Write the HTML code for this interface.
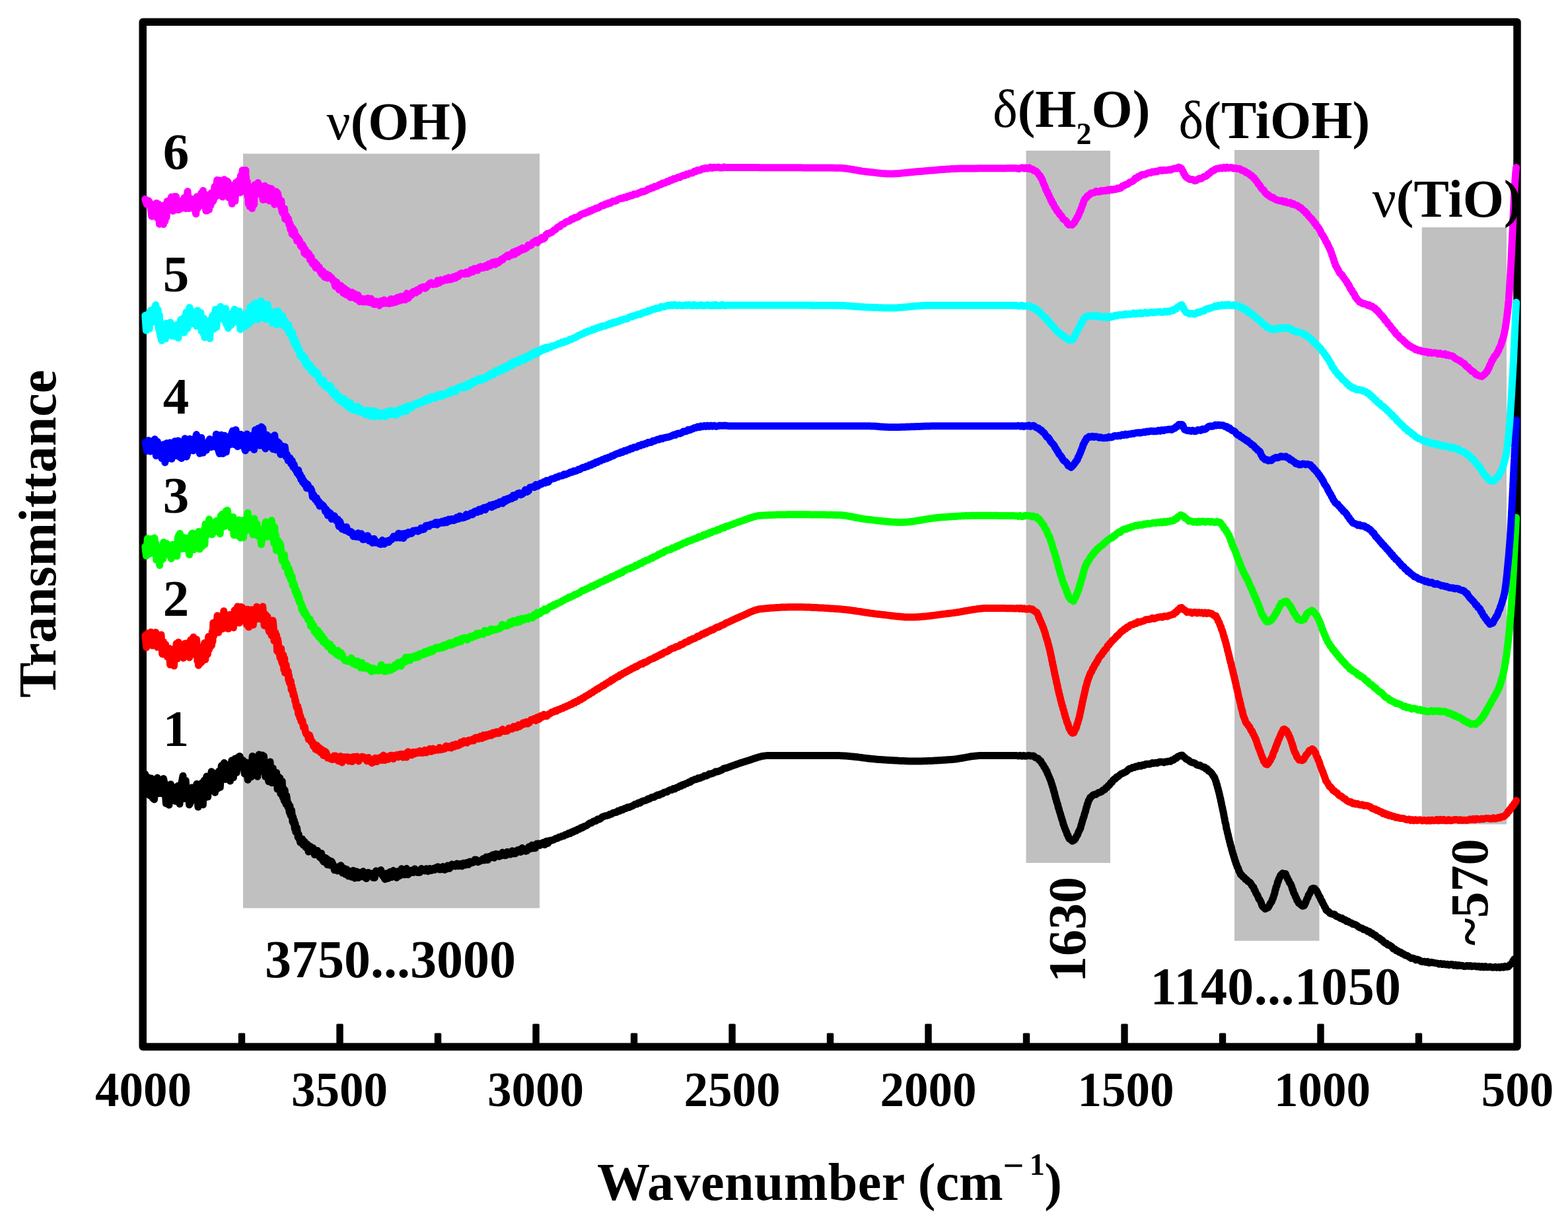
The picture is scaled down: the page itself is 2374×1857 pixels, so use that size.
<!DOCTYPE html>
<html lang="en"><head><meta charset="utf-8"><title>FTIR spectra</title>
<style>html,body{margin:0;padding:0;background:#fff;}body{width:2374px;height:1857px;overflow:hidden;}svg{display:block;}text{font-family:"Liberation Serif","DejaVu Serif",serif;font-weight:bold;fill:#000;}.g{font-weight:normal;}</style></head><body>
<svg width="2374" height="1857" viewBox="0 0 2374 1857">
<rect x="0" y="0" width="2374" height="1857" fill="#ffffff"/>
<rect x="368.0" y="232.6" width="449.0" height="1141.8" fill="#c0c0c0"/>
<rect x="1553.5" y="228.0" width="127.5" height="1078.0" fill="#c0c0c0"/>
<rect x="1869.0" y="227.0" width="128.5" height="1196.8" fill="#c0c0c0"/>
<rect x="2152.8" y="344.0" width="128.2" height="903.5" fill="#c0c0c0"/>
<rect x="216.2" y="33.2" width="2080.8" height="1551.1" fill="none" stroke="#000" stroke-width="11.5" stroke-linejoin="round"/>
<rect x="360.8" y="1563.5" width="10.4" height="18.5" rx="1.5" fill="#000"/>
<rect x="509.3" y="1549.5" width="10.4" height="32.5" rx="1.5" fill="#000"/>
<rect x="657.8" y="1563.5" width="10.4" height="18.5" rx="1.5" fill="#000"/>
<rect x="806.3" y="1549.5" width="10.4" height="32.5" rx="1.5" fill="#000"/>
<rect x="954.8" y="1563.5" width="10.4" height="18.5" rx="1.5" fill="#000"/>
<rect x="1103.3" y="1549.5" width="10.4" height="32.5" rx="1.5" fill="#000"/>
<rect x="1251.8" y="1563.5" width="10.4" height="18.5" rx="1.5" fill="#000"/>
<rect x="1400.3" y="1549.5" width="10.4" height="32.5" rx="1.5" fill="#000"/>
<rect x="1548.8" y="1563.5" width="10.4" height="18.5" rx="1.5" fill="#000"/>
<rect x="1697.3" y="1549.5" width="10.4" height="32.5" rx="1.5" fill="#000"/>
<rect x="1845.8" y="1563.5" width="10.4" height="18.5" rx="1.5" fill="#000"/>
<rect x="1994.3" y="1549.5" width="10.4" height="32.5" rx="1.5" fill="#000"/>
<rect x="2142.8" y="1563.5" width="10.4" height="18.5" rx="1.5" fill="#000"/>
<path d="M220.0 1171.8 L222.0 1199.6 L224.2 1176.7 L226.5 1203.9 L228.8 1178.1 L231.1 1207.8 L233.5 1210.0 L235.9 1184.0 L238.3 1177.1 L240.7 1200.8 L243.0 1181.9 L245.3 1201.0 L247.5 1178.4 L249.5 1186.9 L251.4 1216.2 L253.5 1192.9 L255.9 1218.3 L258.4 1186.9 L260.8 1194.7 L263.1 1194.3 L265.3 1212.5 L267.5 1190.9 L269.7 1189.3 L272.0 1216.8 L274.5 1187.6 L277.0 1174.2 L279.2 1208.7 L281.2 1181.5 L283.0 1207.7 L284.8 1192.3 L286.6 1218.0 L288.5 1214.6 L290.6 1192.1 L293.0 1195.6 L295.5 1208.9 L297.8 1186.5 L299.9 1221.3 L301.9 1192.4 L303.7 1216.4 L305.5 1185.0 L307.3 1217.9 L309.1 1181.0 L310.9 1206.8 L312.8 1175.0 L314.7 1206.0 L316.5 1175.0 L318.3 1190.0 L320.1 1167.8 L321.9 1169.5 L323.7 1194.8 L325.5 1199.4 L327.4 1170.6 L329.3 1193.7 L331.3 1167.2 L333.3 1191.4 L335.3 1158.8 L337.3 1179.1 L339.3 1154.6 L341.4 1179.5 L343.6 1174.5 L345.9 1157.4 L348.4 1182.0 L350.9 1150.9 L353.4 1176.9 L355.8 1148.2 L358.2 1169.3 L360.5 1146.2 L362.9 1144.4 L365.3 1151.0 L367.8 1150.7 L370.3 1171.2 L372.8 1153.9 L375.2 1180.2 L377.5 1155.0 L379.8 1176.0 L382.2 1144.5 L384.7 1164.6 L387.2 1165.0 L389.7 1175.3 L392.2 1141.9 L394.7 1167.3 L397.1 1143.0 L399.5 1144.5 L401.9 1175.6 L404.3 1154.5 L406.7 1182.7 L409.0 1153.1 L411.2 1184.7 L413.3 1162.7 L415.3 1184.9 L417.1 1181.6 L418.6 1169.5 L420.0 1194.3 L421.3 1175.5 L422.5 1191.7 L423.7 1177.6 L424.9 1201.5 L426.1 1185.7 L427.2 1182.5 L428.2 1206.7 L429.2 1193.5 L430.2 1211.8 L431.2 1195.9 L432.1 1210.7 L433.0 1217.2 L433.9 1204.6 L434.8 1211.4 L435.7 1221.1 L436.6 1216.0 L437.4 1223.9 L438.2 1229.5 L439.0 1220.0 L439.8 1233.1 L440.6 1234.8 L441.4 1226.2 L442.2 1232.6 L443.0 1243.8 L443.8 1237.0 L444.6 1246.8 L445.4 1242.0 L446.2 1254.2 L447.0 1246.5 L447.8 1259.2 L448.6 1252.6 L449.4 1252.8 L450.3 1259.1 L451.2 1267.3 L452.2 1262.8 L453.4 1270.0 L454.7 1275.0 L456.1 1275.5 L457.6 1269.9 L459.2 1278.9 L461.0 1273.6 L462.9 1282.4 L465.0 1277.6 L467.2 1289.1 L469.4 1280.8 L471.7 1288.5 L474.0 1283.2 L476.3 1293.6 L478.5 1292.3 L480.7 1287.2 L482.7 1295.4 L484.6 1297.9 L486.5 1291.4 L488.3 1301.5 L490.1 1304.3 L491.9 1298.1 L493.7 1298.8 L495.6 1308.7 L497.6 1301.5 L499.7 1309.4 L501.9 1303.6 L504.2 1308.0 L506.5 1316.8 L508.9 1316.5 L511.3 1318.0 L513.7 1311.2 L516.1 1309.8 L518.4 1321.1 L520.7 1314.1 L522.9 1323.2 L525.1 1315.7 L527.4 1325.9 L529.8 1318.5 L532.3 1327.2 L534.8 1317.6 L537.3 1329.0 L539.8 1318.9 L542.3 1328.6 L544.8 1320.5 L547.3 1326.7 L549.8 1318.8 L552.3 1327.9 L554.8 1329.6 L557.3 1320.4 L559.8 1323.7 L562.3 1322.0 L564.8 1328.3 L567.2 1328.6 L569.5 1318.0 L571.8 1320.7 L574.2 1319.4 L576.7 1316.7 L579.1 1325.2 L581.0 1327.1 L583.1 1330.8 L585.6 1321.8 L588.1 1329.4 L590.6 1319.4 L593.1 1327.6 L595.5 1317.6 L598.0 1325.6 L600.5 1328.4 L603.0 1318.5 L605.5 1325.4 L608.0 1314.8 L610.5 1323.2 L613.0 1323.8 L615.5 1314.4 L618.0 1323.7 L620.5 1320.1 L623.0 1317.2 L625.5 1320.5 L628.0 1314.9 L630.5 1320.1 L633.0 1320.5 L635.5 1320.4 L638.0 1314.6 L640.5 1315.8 L643.0 1318.1 L645.5 1314.8 L648.0 1318.7 L650.5 1314.6 L653.0 1317.6 L655.5 1314.5 L658.0 1316.5 L660.5 1312.8 L663.0 1311.8 L665.5 1316.0 L668.0 1315.8 L670.5 1311.5 L673.0 1316.3 L675.5 1315.3 L678.0 1309.9 L680.3 1314.5 L682.4 1312.5 L684.5 1307.9 L686.8 1310.0 L689.3 1311.0 L691.8 1307.1 L694.2 1310.8 L696.7 1307.4 L699.2 1310.9 L701.7 1306.3 L704.2 1309.3 L706.6 1305.6 L709.0 1308.6 L711.4 1304.0 L713.8 1305.9 L716.3 1305.3 L718.8 1301.1 L721.3 1301.3 L723.8 1304.8 L726.3 1303.3 L728.8 1302.5 L731.3 1299.7 L733.8 1301.9 L736.2 1296.9 L738.6 1301.4 L741.0 1296.2 L743.4 1297.9 L745.8 1293.8 L748.2 1298.3 L750.7 1292.6 L753.2 1292.7 L755.7 1296.2 L758.2 1295.1 L760.7 1290.1 L763.2 1294.7 L765.7 1294.6 L768.2 1289.3 L770.7 1292.9 L773.2 1292.9 L775.7 1287.7 L778.2 1292.1 L780.7 1291.8 L783.2 1286.8 L785.7 1286.1 L788.2 1289.5 L790.7 1283.3 L793.2 1287.6 L795.7 1288.2 L798.2 1287.4 L800.7 1281.5 L803.1 1284.4 L805.5 1279.0 L807.9 1283.8 L810.3 1283.5 L812.7 1276.9 L815.1 1276.8 L817.5 1279.4 L819.9 1276.3 L822.3 1275.2 L824.7 1278.6 L827.1 1273.1 L829.5 1276.4 L831.9 1272.3 L834.3 1272.1 L836.7 1271.5 L839.1 1270.6 L841.5 1268.9 L843.9 1268.7 L846.3 1267.0 L848.7 1266.7 L851.1 1265.3 L853.5 1265.2 L855.9 1263.2 L858.3 1263.3 L860.7 1261.1 L863.1 1261.6 L865.5 1259.1 L867.9 1259.2 L870.2 1257.0 L872.5 1257.3 L874.8 1255.0 L877.1 1254.9 L879.4 1252.8 L881.7 1252.9 L884.0 1250.8 L886.3 1250.3 L888.6 1249.3 L890.9 1247.2 L893.2 1245.8 L895.5 1245.5 L897.8 1243.6 L900.1 1242.6 L902.4 1242.4 L904.7 1239.8 L907.0 1240.1 L909.3 1239.0 L911.6 1236.6 L913.9 1235.7 L916.3 1234.8 L918.7 1234.5 L921.1 1233.8 L923.5 1232.2 L925.9 1232.2 L928.3 1230.1 L930.7 1229.8 L933.1 1229.4 L935.5 1227.2 L937.9 1227.6 L940.3 1225.6 L942.7 1225.7 L945.1 1223.7 L947.5 1223.5 L949.9 1221.8 L952.3 1221.9 L954.7 1220.8 L957.1 1219.9 L959.5 1218.5 L961.9 1216.9 L964.3 1217.1 L966.7 1215.1 L969.1 1215.2 L971.5 1213.2 L973.9 1212.1 L976.3 1211.8 L978.7 1210.9 L981.1 1208.9 L983.5 1209.2 L985.9 1207.1 L988.3 1206.4 L990.7 1206.4 L993.1 1204.3 L995.5 1203.1 L997.9 1203.5 L1000.3 1201.8 L1002.7 1201.4 L1005.1 1199.4 L1007.5 1198.8 L1009.9 1198.5 L1012.3 1196.7 L1014.7 1195.5 L1017.1 1195.5 L1019.5 1193.6 L1021.9 1194.0 L1024.3 1191.9 L1026.6 1191.8 L1028.9 1189.6 L1031.2 1189.7 L1033.5 1187.5 L1035.8 1187.7 L1038.1 1185.9 L1040.4 1185.5 L1042.7 1183.8 L1045.0 1183.8 L1047.3 1181.5 L1049.7 1180.7 L1052.1 1179.6 L1054.5 1179.4 L1056.9 1177.6 L1059.3 1178.0 L1061.7 1176.6 L1064.1 1175.9 L1066.5 1174.0 L1068.9 1174.3 L1071.3 1173.4 L1073.7 1171.3 L1076.1 1171.3 L1078.5 1170.5 L1080.9 1169.6 L1083.3 1167.8 L1085.7 1168.0 L1088.1 1167.3 L1090.5 1166.1 L1092.9 1165.5 L1095.3 1163.3 L1097.7 1162.7 L1100.1 1162.3 L1102.5 1161.4 L1104.9 1160.5 L1107.3 1159.6 L1109.7 1158.7 L1112.1 1157.9 L1114.5 1157.0 L1116.9 1156.2 L1119.3 1155.3 L1121.7 1154.5 L1124.1 1153.7 L1126.5 1153.0 L1128.9 1152.2 L1131.3 1151.5 L1133.7 1150.8 L1136.1 1150.0 L1138.5 1149.1 L1140.9 1148.3 L1143.3 1147.5 L1145.7 1146.7 L1148.1 1146.0 L1150.6 1145.3 L1153.1 1144.7 L1155.6 1144.2 L1158.1 1143.9 L1160.6 1143.6 L1163.1 1143.6 L1165.6 1143.6 L1168.1 1143.6 L1170.7 1143.6 L1173.3 1143.6 L1175.9 1143.6 L1178.4 1143.6 L1180.9 1143.6 L1183.5 1143.6 L1186.1 1143.6 L1188.7 1143.6 L1191.2 1143.6 L1193.7 1143.6 L1196.3 1143.6 L1198.9 1143.6 L1201.5 1143.6 L1204.0 1143.6 L1206.5 1143.6 L1209.1 1143.6 L1211.7 1143.6 L1214.3 1143.6 L1216.8 1143.6 L1219.3 1143.6 L1221.9 1143.6 L1224.5 1143.6 L1227.1 1143.6 L1229.6 1143.6 L1232.1 1143.6 L1234.7 1143.6 L1237.3 1143.6 L1239.9 1143.6 L1242.4 1143.6 L1245.0 1143.6 L1247.6 1143.6 L1250.2 1143.6 L1252.7 1143.6 L1255.3 1143.6 L1257.8 1143.6 L1260.4 1143.6 L1263.0 1143.6 L1265.5 1143.6 L1268.1 1143.6 L1270.6 1143.6 L1273.1 1143.7 L1275.6 1143.7 L1278.1 1143.9 L1280.6 1144.0 L1283.1 1144.2 L1285.6 1144.4 L1288.1 1144.7 L1290.6 1144.9 L1293.1 1145.2 L1295.6 1145.5 L1298.1 1145.8 L1300.6 1146.1 L1303.1 1146.4 L1305.6 1146.8 L1308.1 1147.1 L1310.6 1147.4 L1313.1 1147.7 L1315.6 1148.0 L1318.1 1148.3 L1320.6 1148.6 L1323.1 1148.8 L1325.6 1149.0 L1328.1 1149.2 L1330.6 1149.4 L1333.1 1149.6 L1335.6 1149.7 L1338.1 1149.9 L1340.6 1150.1 L1343.1 1150.2 L1345.6 1150.4 L1348.1 1150.5 L1350.6 1150.7 L1353.1 1150.8 L1355.6 1151.0 L1358.1 1151.1 L1360.6 1151.3 L1363.1 1151.4 L1365.6 1151.5 L1368.1 1151.6 L1370.6 1151.7 L1373.1 1151.8 L1375.6 1151.9 L1378.1 1151.9 L1380.6 1152.0 L1383.1 1152.0 L1385.6 1152.0 L1388.1 1152.0 L1390.6 1152.0 L1393.1 1152.0 L1395.6 1151.9 L1398.1 1151.8 L1400.6 1151.8 L1403.1 1151.7 L1405.6 1151.6 L1408.1 1151.5 L1410.6 1151.4 L1413.1 1151.2 L1415.6 1151.1 L1418.1 1151.0 L1420.6 1150.8 L1423.1 1150.7 L1425.6 1150.5 L1428.1 1150.3 L1430.6 1150.2 L1433.1 1150.0 L1435.6 1149.8 L1438.1 1149.7 L1440.6 1149.5 L1443.1 1149.3 L1445.6 1149.0 L1448.1 1148.7 L1450.6 1148.3 L1453.1 1147.9 L1455.6 1147.5 L1458.1 1147.0 L1460.6 1146.6 L1463.1 1146.1 L1465.6 1145.7 L1468.1 1145.2 L1470.6 1144.8 L1473.1 1144.5 L1475.6 1144.2 L1478.1 1143.9 L1480.6 1143.7 L1483.1 1143.6 L1485.6 1143.6 L1488.2 1143.6 L1490.8 1143.6 L1493.4 1143.6 L1495.9 1143.6 L1498.5 1143.6 L1501.0 1143.6 L1503.6 1143.6 L1506.2 1143.6 L1508.7 1143.6 L1511.3 1143.6 L1513.8 1143.6 L1516.4 1143.6 L1519.0 1143.6 L1521.5 1143.6 L1524.1 1143.6 L1526.6 1143.6 L1529.2 1143.6 L1531.8 1143.6 L1534.3 1143.6 L1536.9 1143.6 L1539.4 1143.6 L1542.0 1144.0 L1544.6 1143.3 L1547.1 1144.3 L1549.7 1143.3 L1552.2 1144.3 L1554.8 1144.0 L1557.4 1143.3 L1559.9 1144.1 L1562.4 1143.9 L1564.9 1144.0 L1567.3 1146.4 L1569.6 1147.2 L1571.7 1147.9 L1573.7 1150.8 L1575.5 1151.4 L1577.0 1154.5 L1578.4 1156.6 L1579.7 1158.1 L1581.0 1161.3 L1582.3 1162.2 L1583.6 1165.7 L1584.8 1166.7 L1586.0 1170.6 L1587.1 1172.7 L1588.2 1175.3 L1589.2 1177.6 L1590.1 1180.2 L1591.0 1181.7 L1591.8 1185.4 L1592.6 1186.9 L1593.4 1190.1 L1594.2 1192.0 L1595.0 1195.5 L1595.7 1198.2 L1596.4 1199.5 L1597.1 1203.4 L1597.8 1205.4 L1598.5 1208.8 L1599.2 1210.2 L1599.9 1213.6 L1600.7 1215.6 L1601.5 1218.0 L1602.3 1222.2 L1603.1 1223.8 L1603.9 1227.1 L1604.7 1229.6 L1605.5 1231.7 L1606.3 1235.3 L1607.0 1236.9 L1607.7 1240.0 L1608.4 1241.3 L1609.2 1244.3 L1610.0 1247.9 L1610.9 1249.4 L1611.8 1252.8 L1612.7 1254.4 L1613.6 1257.0 L1614.6 1259.0 L1615.7 1262.9 L1616.8 1264.0 L1618.0 1267.7 L1619.3 1269.8 L1621.0 1270.3 L1623.1 1272.9 L1625.6 1272.1 L1627.2 1270.8 L1628.5 1268.6 L1629.9 1265.3 L1631.2 1263.8 L1632.4 1260.5 L1633.5 1258.0 L1634.5 1256.0 L1635.4 1254.4 L1636.2 1252.1 L1637.0 1248.4 L1637.8 1246.6 L1638.6 1243.2 L1639.4 1240.6 L1640.2 1237.9 L1641.0 1236.4 L1641.8 1232.8 L1642.6 1230.0 L1643.4 1228.4 L1644.2 1224.3 L1644.9 1221.9 L1645.6 1220.7 L1646.3 1216.7 L1647.1 1215.5 L1648.1 1211.6 L1649.3 1210.4 L1650.6 1206.9 L1652.2 1206.1 L1654.3 1203.8 L1656.6 1202.4 L1659.0 1202.5 L1661.4 1200.7 L1663.7 1199.4 L1665.9 1199.0 L1668.1 1197.9 L1670.3 1195.6 L1672.4 1195.2 L1674.4 1192.2 L1676.3 1191.9 L1678.1 1188.7 L1679.8 1188.2 L1681.6 1184.7 L1683.4 1184.3 L1685.2 1180.9 L1687.0 1179.1 L1688.8 1178.6 L1690.7 1175.8 L1692.7 1175.3 L1694.8 1173.6 L1697.0 1171.5 L1699.2 1170.8 L1701.4 1169.5 L1703.6 1168.7 L1705.8 1167.3 L1708.0 1164.9 L1710.2 1163.4 L1712.5 1163.2 L1714.8 1161.4 L1717.2 1161.6 L1719.7 1160.0 L1722.2 1160.2 L1724.7 1158.5 L1727.2 1159.5 L1729.7 1157.7 L1732.2 1158.3 L1734.7 1156.4 L1737.2 1156.2 L1739.7 1156.5 L1742.2 1156.0 L1744.7 1154.5 L1747.2 1155.3 L1749.7 1154.2 L1752.2 1154.9 L1754.7 1153.2 L1757.2 1153.1 L1759.7 1153.3 L1762.2 1154.0 L1764.7 1152.8 L1767.2 1153.0 L1769.7 1151.9 L1772.2 1152.4 L1774.6 1150.2 L1776.8 1150.3 L1779.0 1147.7 L1781.2 1147.6 L1783.3 1145.0 L1785.3 1144.4 L1787.6 1143.2 L1790.1 1143.1 L1792.1 1145.4 L1793.9 1146.6 L1795.9 1148.9 L1798.0 1149.6 L1800.1 1150.9 L1802.3 1153.0 L1804.6 1154.0 L1807.0 1154.3 L1809.4 1155.3 L1811.8 1157.6 L1814.2 1158.4 L1816.6 1158.0 L1819.0 1159.8 L1821.4 1160.9 L1823.7 1160.9 L1825.8 1163.7 L1827.8 1163.5 L1829.8 1166.9 L1831.7 1167.5 L1833.5 1169.2 L1835.2 1171.2 L1836.8 1174.4 L1838.2 1175.4 L1839.3 1178.0 L1840.2 1181.0 L1841.0 1182.4 L1841.8 1186.5 L1842.6 1187.6 L1843.4 1191.8 L1844.1 1193.3 L1844.8 1196.8 L1845.4 1198.4 L1846.0 1201.5 L1846.6 1203.5 L1847.2 1206.9 L1847.8 1208.3 L1848.4 1212.4 L1849.0 1214.1 L1849.6 1217.8 L1850.2 1220.6 L1850.8 1222.6 L1851.4 1226.5 L1852.0 1228.4 L1852.5 1230.9 L1853.0 1234.3 L1853.5 1236.9 L1854.0 1238.5 L1854.5 1242.3 L1855.0 1244.8 L1855.5 1245.7 L1856.1 1248.4 L1856.7 1253.0 L1857.3 1255.3 L1857.9 1257.2 L1858.5 1260.8 L1859.1 1262.3 L1859.7 1264.9 L1860.3 1268.2 L1860.9 1269.8 L1861.6 1273.5 L1862.3 1275.0 L1863.0 1279.2 L1863.7 1280.6 L1864.4 1283.0 L1865.1 1286.9 L1865.8 1288.3 L1866.5 1291.6 L1867.3 1293.3 L1868.1 1296.7 L1868.9 1298.5 L1869.7 1302.1 L1870.5 1303.5 L1871.4 1307.3 L1872.3 1308.5 L1873.2 1312.2 L1874.1 1312.9 L1875.0 1315.1 L1876.0 1318.8 L1877.1 1320.1 L1878.5 1323.8 L1880.1 1324.4 L1881.9 1327.1 L1883.8 1327.8 L1885.7 1330.9 L1887.6 1331.3 L1889.5 1334.0 L1891.4 1334.7 L1893.3 1336.5 L1895.0 1339.5 L1896.6 1341.8 L1897.9 1342.5 L1899.0 1346.4 L1900.1 1347.6 L1901.2 1350.6 L1902.4 1353.2 L1903.6 1354.4 L1904.8 1357.3 L1906.0 1360.8 L1907.2 1361.5 L1908.4 1363.9 L1909.5 1366.5 L1910.6 1370.2 L1911.9 1372.4 L1913.6 1373.4 L1915.6 1375.7 L1918.1 1374.4 L1919.9 1373.5 L1921.4 1371.1 L1922.9 1368.1 L1924.2 1366.1 L1925.4 1364.5 L1926.5 1361.0 L1927.5 1359.6 L1928.4 1355.8 L1929.2 1354.0 L1929.9 1351.6 L1930.6 1347.5 L1931.3 1346.2 L1932.0 1342.4 L1932.8 1341.4 L1933.6 1338.8 L1934.4 1334.8 L1935.3 1333.8 L1936.3 1329.9 L1937.4 1328.5 L1938.5 1325.1 L1939.8 1323.7 L1941.9 1321.6 L1944.4 1322.5 L1946.4 1322.6 L1947.6 1326.1 L1948.7 1327.8 L1949.9 1330.9 L1951.1 1332.3 L1952.3 1335.9 L1953.5 1336.9 L1954.6 1339.0 L1955.7 1341.9 L1956.7 1345.7 L1957.6 1346.9 L1958.5 1350.6 L1959.4 1352.7 L1960.4 1354.0 L1961.5 1357.4 L1962.6 1358.8 L1963.7 1362.7 L1964.9 1363.5 L1966.3 1366.9 L1967.7 1367.4 L1969.6 1369.4 L1972.1 1371.3 L1974.5 1370.7 L1975.8 1368.0 L1976.9 1365.6 L1978.0 1362.4 L1979.1 1359.6 L1980.1 1358.5 L1981.1 1354.5 L1982.2 1353.6 L1983.4 1351.0 L1984.6 1349.0 L1986.0 1345.3 L1988.2 1344.3 L1990.7 1344.9 L1992.3 1347.1 L1993.4 1348.1 L1994.6 1350.5 L1995.9 1353.1 L1997.1 1356.0 L1998.3 1357.4 L1999.5 1360.4 L2000.7 1363.1 L2001.8 1364.3 L2003.0 1367.6 L2004.2 1369.3 L2005.4 1372.4 L2006.6 1373.5 L2007.9 1377.4 L2009.4 1378.4 L2011.4 1379.5 L2013.6 1382.2 L2015.9 1383.1 L2018.2 1383.8 L2020.5 1383.7 L2022.8 1386.5 L2025.1 1387.3 L2027.4 1388.3 L2029.7 1389.9 L2032.0 1389.6 L2034.3 1392.1 L2036.6 1391.9 L2038.9 1394.5 L2041.2 1394.3 L2043.5 1396.3 L2045.8 1396.6 L2048.1 1398.7 L2050.4 1398.8 L2052.7 1399.7 L2055.0 1401.1 L2057.3 1403.3 L2059.6 1404.3 L2061.9 1404.7 L2064.2 1406.7 L2066.5 1406.9 L2068.8 1408.0 L2071.1 1409.8 L2073.4 1409.8 L2075.7 1412.5 L2078.0 1412.6 L2080.2 1415.0 L2082.3 1415.2 L2084.4 1417.9 L2086.5 1419.0 L2088.5 1419.8 L2090.6 1422.3 L2092.7 1422.9 L2094.8 1425.6 L2096.9 1427.3 L2099.0 1427.5 L2101.1 1430.2 L2103.2 1430.3 L2105.3 1431.6 L2107.4 1433.1 L2109.5 1436.0 L2111.7 1436.3 L2113.9 1438.7 L2116.1 1439.0 L2118.3 1441.1 L2120.5 1440.9 L2122.7 1443.3 L2125.0 1443.7 L2127.3 1445.9 L2129.6 1446.0 L2131.9 1447.2 L2134.2 1448.9 L2136.6 1450.4 L2139.0 1449.9 L2141.4 1451.0 L2143.8 1453.0 L2146.2 1452.0 L2148.7 1453.0 L2151.2 1454.9 L2153.7 1455.6 L2156.2 1455.0 L2158.7 1456.3 L2161.2 1455.4 L2163.7 1457.3 L2166.2 1456.3 L2168.7 1456.7 L2171.2 1457.1 L2173.7 1457.6 L2176.2 1457.9 L2178.7 1459.2 L2181.2 1458.3 L2183.7 1459.6 L2186.2 1458.7 L2188.7 1459.9 L2191.2 1459.3 L2193.7 1460.6 L2196.2 1459.6 L2198.7 1459.5 L2201.2 1461.2 L2203.7 1460.0 L2206.2 1461.7 L2208.7 1460.5 L2211.2 1461.6 L2213.7 1461.2 L2216.2 1462.4 L2218.7 1462.5 L2221.2 1461.4 L2223.7 1462.4 L2226.2 1461.5 L2228.7 1462.7 L2231.2 1462.2 L2233.7 1462.1 L2236.2 1463.1 L2238.7 1462.3 L2241.2 1463.8 L2243.7 1462.6 L2246.2 1463.9 L2248.7 1462.5 L2251.2 1463.8 L2253.7 1463.7 L2256.2 1463.1 L2258.7 1464.0 L2261.2 1464.2 L2263.7 1463.3 L2266.2 1464.3 L2268.7 1463.4 L2271.2 1464.5 L2273.7 1463.1 L2276.2 1464.1 L2278.7 1462.4 L2281.2 1463.4 L2283.7 1463.1 L2286.0 1460.3 L2287.9 1458.9 L2289.4 1457.9 L2290.7 1454.4 L2291.8 1453.1 L2292.7 1451.4" fill="none" stroke="#000000" stroke-width="11.0" stroke-linejoin="round" stroke-linecap="round"/>
<path d="M219.8 961.8 L221.7 979.8 L223.7 958.4 L225.9 974.6 L228.3 956.7 L230.8 977.1 L233.3 975.4 L235.8 957.1 L238.2 979.4 L240.4 962.0 L242.3 976.5 L244.0 960.7 L245.7 990.0 L247.3 971.1 L249.0 988.6 L250.6 975.4 L252.0 990.6 L253.3 994.2 L254.6 985.3 L256.0 981.2 L257.6 1006.0 L259.7 983.2 L262.0 989.2 L263.5 1007.8 L264.7 981.4 L265.9 995.4 L267.1 974.0 L268.4 997.0 L270.1 972.1 L272.6 987.4 L275.1 975.7 L277.6 996.0 L280.1 974.0 L282.6 973.7 L284.9 991.2 L286.8 995.1 L288.6 968.6 L290.5 990.4 L292.8 964.2 L294.8 983.6 L295.8 972.3 L296.7 989.9 L297.5 967.8 L298.2 976.6 L298.9 1000.3 L299.7 978.2 L300.5 1007.1 L301.5 987.8 L303.1 1003.9 L305.3 1001.9 L306.6 988.4 L307.7 997.6 L308.7 978.9 L309.7 973.1 L310.8 998.3 L312.0 989.6 L313.2 972.0 L314.4 990.0 L315.6 963.5 L316.8 982.5 L317.9 964.4 L318.9 967.0 L319.8 978.0 L320.6 976.3 L321.3 955.7 L322.0 970.8 L322.8 942.6 L323.8 961.8 L325.3 943.1 L327.2 952.7 L329.1 931.8 L330.8 957.2 L332.2 950.0 L333.6 937.8 L335.0 932.8 L336.6 951.8 L338.8 924.8 L341.3 950.4 L343.5 931.0 L345.7 951.6 L348.2 930.3 L350.4 932.9 L352.0 933.1 L353.5 949.9 L355.1 923.5 L357.2 940.6 L359.7 917.9 L362.2 942.7 L364.7 918.4 L367.2 919.5 L369.7 935.8 L372.0 940.5 L373.6 945.5 L375.0 922.2 L376.5 949.1 L378.4 930.8 L380.9 922.8 L383.3 945.9 L385.5 926.8 L387.2 937.2 L388.7 918.2 L390.4 920.1 L392.9 936.7 L395.4 923.4 L397.8 917.9 L400.1 946.8 L402.0 930.1 L403.5 947.3 L404.9 933.2 L406.3 951.2 L407.7 956.2 L408.9 939.1 L410.0 938.9 L411.1 962.0 L412.2 941.3 L413.2 939.1 L414.1 947.7 L415.0 970.0 L415.9 963.8 L416.8 957.1 L417.7 970.9 L418.6 961.4 L419.5 985.3 L420.4 967.3 L421.3 972.7 L422.2 988.4 L423.1 979.7 L424.0 995.7 L424.9 992.2 L425.7 981.8 L426.5 1001.5 L427.3 1003.5 L428.1 1005.5 L428.9 991.5 L429.8 1013.2 L430.7 996.2 L431.6 1018.5 L432.4 1012.8 L433.2 1006.5 L434.0 1019.4 L434.8 1015.0 L435.5 1017.2 L436.2 1015.7 L436.9 1029.2 L437.6 1022.8 L438.3 1033.2 L439.0 1028.9 L439.7 1035.9 L440.4 1031.3 L441.1 1043.9 L441.8 1038.3 L442.5 1046.0 L443.2 1043.6 L443.9 1052.4 L444.6 1049.4 L445.3 1053.6 L446.0 1054.0 L446.8 1061.4 L447.6 1060.4 L448.4 1068.0 L449.2 1070.9 L450.0 1069.3 L450.8 1068.7 L451.6 1080.5 L452.4 1074.4 L453.2 1079.1 L454.0 1086.7 L454.9 1084.0 L455.8 1091.4 L456.7 1092.8 L457.6 1089.9 L458.5 1094.4 L459.4 1100.8 L460.3 1098.9 L461.3 1100.1 L462.4 1107.4 L463.5 1110.7 L464.7 1111.7 L465.9 1111.2 L467.2 1118.9 L468.5 1112.5 L469.9 1116.6 L471.3 1123.0 L472.8 1122.3 L474.4 1129.3 L476.1 1126.2 L477.9 1134.2 L479.7 1128.1 L481.6 1136.1 L483.5 1131.5 L485.5 1139.1 L487.5 1134.6 L489.6 1143.4 L491.7 1137.0 L493.9 1139.1 L496.1 1147.1 L498.4 1146.2 L500.8 1148.9 L503.2 1149.4 L505.7 1144.1 L508.2 1144.0 L510.7 1150.6 L513.2 1152.1 L515.6 1144.6 L518.0 1153.9 L520.5 1145.8 L523.0 1145.9 L525.5 1145.6 L528.0 1152.0 L530.5 1146.2 L533.0 1152.6 L535.5 1145.3 L538.0 1149.9 L540.5 1145.0 L543.0 1152.1 L545.5 1147.6 L548.0 1145.3 L550.5 1145.6 L553.0 1147.8 L555.5 1151.8 L558.0 1146.5 L560.5 1152.2 L563.0 1154.8 L565.5 1153.4 L568.0 1147.2 L570.5 1152.7 L573.0 1150.6 L575.5 1146.2 L578.0 1150.6 L580.5 1143.1 L583.0 1150.5 L585.5 1145.2 L588.0 1149.2 L590.5 1143.6 L593.0 1143.2 L595.5 1148.5 L598.0 1143.7 L600.5 1142.6 L603.0 1145.9 L605.5 1141.4 L608.0 1141.3 L610.5 1146.2 L613.0 1140.8 L615.5 1146.0 L618.0 1137.7 L620.5 1141.6 L623.0 1142.7 L625.5 1138.3 L628.0 1140.9 L630.5 1138.2 L633.0 1139.5 L635.5 1136.4 L638.0 1139.6 L640.5 1139.5 L643.0 1135.3 L645.5 1138.9 L648.0 1137.5 L650.5 1133.3 L653.0 1137.3 L655.5 1133.0 L658.0 1135.8 L660.5 1134.6 L663.0 1135.2 L665.5 1131.4 L668.0 1134.6 L670.5 1133.7 L673.0 1133.6 L675.5 1129.0 L678.0 1131.5 L680.5 1129.4 L683.0 1132.1 L685.5 1127.5 L688.0 1130.1 L690.4 1126.2 L692.8 1128.7 L695.2 1127.8 L697.6 1123.3 L700.0 1125.4 L702.4 1121.2 L704.8 1123.5 L707.2 1124.2 L709.6 1120.2 L712.1 1121.5 L714.6 1119.1 L717.1 1121.1 L719.6 1116.5 L722.1 1116.2 L724.6 1118.3 L727.1 1114.5 L729.6 1117.5 L732.1 1112.6 L734.5 1115.5 L736.9 1112.0 L739.3 1113.9 L741.7 1110.7 L744.1 1113.0 L746.5 1108.9 L748.9 1110.7 L751.3 1107.6 L753.7 1109.9 L756.1 1109.5 L758.5 1105.6 L760.9 1103.8 L763.3 1106.7 L765.7 1106.5 L768.1 1106.3 L770.5 1102.1 L772.9 1103.2 L775.3 1103.3 L777.7 1099.4 L780.1 1101.1 L782.5 1101.3 L784.9 1097.1 L787.3 1099.2 L789.7 1097.4 L792.1 1093.8 L794.5 1095.7 L796.9 1092.4 L799.3 1095.2 L801.7 1093.6 L804.1 1089.3 L806.5 1089.1 L808.9 1087.6 L811.3 1090.7 L813.7 1085.4 L816.1 1088.6 L818.5 1083.4 L820.9 1085.4 L823.3 1081.2 L825.7 1083.8 L828.1 1083.9 L830.5 1080.8 L832.9 1080.1 L835.3 1077.8 L837.7 1077.8 L840.1 1075.8 L842.5 1076.3 L844.9 1073.9 L847.3 1073.7 L849.6 1072.3 L851.9 1072.1 L854.2 1070.1 L856.5 1069.9 L858.8 1068.3 L861.1 1068.0 L863.4 1066.2 L865.7 1066.0 L868.0 1063.5 L870.3 1063.8 L872.6 1061.2 L874.9 1061.4 L877.2 1058.7 L879.4 1059.0 L881.6 1056.6 L883.8 1056.4 L886.0 1053.8 L888.2 1053.2 L890.4 1051.4 L892.6 1050.7 L894.8 1048.6 L897.0 1048.2 L899.2 1045.9 L901.4 1045.0 L903.6 1042.8 L905.8 1042.7 L908.0 1040.5 L910.2 1039.7 L912.4 1037.6 L914.6 1037.4 L916.8 1034.9 L919.0 1034.3 L921.2 1032.2 L923.4 1032.0 L925.6 1029.1 L927.8 1029.1 L930.0 1026.6 L932.2 1026.1 L934.4 1024.0 L936.6 1024.0 L938.8 1021.2 L941.0 1021.3 L943.2 1019.0 L945.4 1018.5 L947.6 1016.6 L949.9 1016.1 L952.2 1014.1 L954.5 1013.6 L956.8 1011.5 L959.1 1011.3 L961.4 1009.1 L963.7 1009.2 L966.0 1007.3 L968.3 1005.8 L970.6 1004.6 L972.9 1005.0 L975.2 1002.5 L977.5 1002.4 L979.8 1001.2 L982.1 999.5 L984.4 998.2 L986.7 997.1 L989.0 996.7 L991.3 994.8 L993.6 994.5 L995.9 992.6 L998.2 992.0 L1000.5 990.0 L1002.8 989.9 L1005.1 987.6 L1007.4 986.8 L1009.7 986.3 L1012.0 985.0 L1014.3 983.0 L1016.6 981.8 L1018.9 980.9 L1021.2 980.6 L1023.5 978.7 L1025.8 978.4 L1028.1 977.7 L1030.4 975.5 L1032.7 975.4 L1035.0 974.1 L1037.3 972.1 L1039.6 971.6 L1041.9 970.8 L1044.2 968.5 L1046.5 968.5 L1048.8 966.7 L1051.1 966.5 L1053.4 965.4 L1055.7 963.1 L1058.0 963.2 L1060.3 961.8 L1062.6 959.8 L1064.9 959.9 L1067.2 957.6 L1069.5 957.9 L1071.8 955.7 L1074.1 955.4 L1076.4 953.2 L1078.7 953.4 L1081.0 952.1 L1083.3 950.3 L1085.6 949.1 L1087.9 949.2 L1090.2 948.0 L1092.5 946.1 L1094.8 945.8 L1097.1 944.5 L1099.4 942.6 L1101.7 942.1 L1104.0 941.0 L1106.3 939.9 L1108.6 938.8 L1110.9 937.7 L1113.2 936.6 L1115.5 935.6 L1117.8 934.6 L1120.1 933.6 L1122.5 932.5 L1124.8 931.6 L1127.1 930.5 L1129.4 929.5 L1131.7 928.4 L1134.0 927.3 L1136.3 926.3 L1138.6 925.3 L1141.0 924.4 L1143.4 923.5 L1145.8 922.8 L1148.3 922.2 L1150.8 921.7 L1153.3 921.4 L1155.8 921.2 L1158.3 920.9 L1160.8 920.7 L1163.3 920.5 L1165.8 920.3 L1168.3 920.1 L1170.8 919.9 L1173.3 919.7 L1175.8 919.6 L1178.3 919.4 L1180.8 919.3 L1183.3 919.1 L1185.8 919.0 L1188.3 918.9 L1190.8 918.9 L1193.3 918.8 L1195.8 918.7 L1198.3 918.7 L1200.8 918.7 L1203.3 918.7 L1205.8 918.7 L1208.3 918.7 L1210.8 918.7 L1213.3 918.8 L1215.8 918.8 L1218.3 918.9 L1220.8 919.0 L1223.3 919.1 L1225.8 919.1 L1228.3 919.2 L1230.8 919.4 L1233.3 919.5 L1235.8 919.6 L1238.3 919.7 L1240.8 919.9 L1243.3 920.0 L1245.8 920.1 L1248.3 920.3 L1250.8 920.4 L1253.3 920.6 L1255.8 920.8 L1258.3 920.9 L1260.8 921.1 L1263.3 921.2 L1265.8 921.4 L1268.3 921.6 L1270.8 921.7 L1273.3 921.9 L1275.8 922.2 L1278.3 922.4 L1280.8 922.7 L1283.3 923.0 L1285.8 923.3 L1288.3 923.6 L1290.8 924.0 L1293.3 924.3 L1295.8 924.7 L1298.3 925.1 L1300.8 925.4 L1303.3 925.8 L1305.8 926.2 L1308.3 926.6 L1310.8 927.0 L1313.3 927.3 L1315.8 927.7 L1318.3 928.1 L1320.8 928.4 L1323.3 928.7 L1325.8 929.1 L1328.3 929.4 L1330.8 929.6 L1333.3 929.9 L1335.8 930.2 L1338.3 930.5 L1340.8 930.8 L1343.3 931.1 L1345.8 931.4 L1348.3 931.7 L1350.8 932.0 L1353.3 932.3 L1355.8 932.6 L1358.3 932.9 L1360.8 933.1 L1363.3 933.3 L1365.8 933.5 L1368.3 933.7 L1370.8 933.9 L1373.3 934.0 L1375.8 934.0 L1378.3 934.1 L1380.8 934.1 L1383.3 934.0 L1385.8 933.9 L1388.3 933.8 L1390.8 933.7 L1393.3 933.5 L1395.8 933.3 L1398.3 933.1 L1400.8 932.9 L1403.3 932.6 L1405.8 932.3 L1408.3 932.0 L1410.8 931.7 L1413.3 931.4 L1415.8 931.1 L1418.3 930.8 L1420.8 930.4 L1423.3 930.1 L1425.8 929.8 L1428.3 929.4 L1430.8 929.1 L1433.3 928.8 L1435.8 928.5 L1438.3 928.2 L1440.8 927.9 L1443.3 927.6 L1445.8 927.2 L1448.3 926.9 L1450.8 926.5 L1453.3 926.1 L1455.8 925.6 L1458.3 925.2 L1460.8 924.7 L1463.3 924.3 L1465.8 923.9 L1468.3 923.4 L1470.8 923.0 L1473.3 922.6 L1475.8 922.2 L1478.3 921.9 L1480.8 921.5 L1483.3 921.2 L1485.8 921.0 L1488.3 920.8 L1490.8 920.6 L1493.3 920.5 L1495.8 920.5 L1498.3 920.5 L1500.8 920.5 L1503.3 920.5 L1505.8 920.5 L1508.3 920.5 L1510.8 920.6 L1513.3 920.6 L1515.8 920.6 L1518.3 920.6 L1520.8 920.6 L1523.3 920.7 L1525.8 920.7 L1528.3 920.7 L1530.8 920.8 L1533.3 920.8 L1535.8 920.9 L1538.3 920.9 L1540.8 920.4 L1543.3 921.5 L1545.8 920.4 L1548.3 921.6 L1550.8 920.7 L1553.3 922.1 L1555.8 921.8 L1558.3 921.0 L1560.8 922.3 L1563.2 922.0 L1565.5 924.4 L1567.7 925.8 L1569.6 926.7 L1570.8 929.2 L1571.9 931.2 L1572.9 935.2 L1573.9 936.3 L1575.0 939.9 L1576.0 940.8 L1577.0 944.4 L1578.0 945.6 L1579.0 949.2 L1579.9 950.5 L1580.8 954.0 L1581.7 956.0 L1582.5 958.5 L1583.3 961.9 L1584.1 964.7 L1584.9 967.6 L1585.6 968.8 L1586.3 971.5 L1587.0 974.9 L1587.7 976.6 L1588.4 980.2 L1589.0 981.6 L1589.6 985.2 L1590.2 986.8 L1590.8 990.8 L1591.4 992.5 L1592.0 995.5 L1592.6 999.7 L1593.2 1001.1 L1593.8 1005.6 L1594.4 1007.0 L1595.0 1009.8 L1595.6 1013.6 L1596.2 1015.8 L1596.8 1019.4 L1597.4 1022.2 L1598.0 1024.0 L1598.6 1027.7 L1599.2 1029.4 L1599.8 1033.6 L1600.4 1035.0 L1601.0 1037.5 L1601.6 1041.6 L1602.2 1044.2 L1602.8 1045.8 L1603.4 1049.6 L1604.0 1050.7 L1604.6 1053.6 L1605.3 1056.2 L1606.0 1060.0 L1606.7 1061.7 L1607.4 1064.9 L1608.1 1067.6 L1608.8 1068.9 L1609.5 1072.8 L1610.2 1074.1 L1610.9 1076.6 L1611.6 1080.2 L1612.3 1081.3 L1613.0 1085.2 L1613.8 1086.8 L1614.6 1089.5 L1615.4 1093.1 L1616.3 1094.2 L1617.2 1097.0 L1618.1 1099.9 L1619.0 1102.8 L1620.1 1104.5 L1621.6 1107.5 L1623.5 1109.5 L1626.0 1108.9 L1627.2 1104.9 L1628.3 1103.7 L1629.4 1101.5 L1630.3 1097.7 L1631.1 1095.3 L1631.9 1093.6 L1632.6 1090.3 L1633.3 1088.3 L1634.0 1085.6 L1634.7 1083.1 L1635.3 1079.3 L1635.9 1077.7 L1636.5 1073.9 L1637.1 1072.2 L1637.6 1068.6 L1638.1 1067.0 L1638.7 1062.8 L1639.3 1061.1 L1639.9 1057.4 L1640.5 1055.8 L1641.1 1052.4 L1641.7 1050.6 L1642.3 1047.1 L1642.9 1045.4 L1643.5 1041.9 L1644.1 1039.2 L1644.8 1037.3 L1645.5 1035.0 L1646.2 1031.7 L1647.0 1029.7 L1647.9 1026.6 L1648.8 1024.9 L1649.8 1021.8 L1650.9 1018.8 L1652.0 1017.5 L1653.2 1015.3 L1654.4 1011.8 L1655.6 1010.8 L1656.8 1007.6 L1658.1 1005.4 L1659.4 1004.2 L1660.7 1000.9 L1662.1 999.4 L1663.5 996.0 L1664.9 994.2 L1666.4 992.0 L1667.9 991.2 L1669.4 987.5 L1670.9 986.9 L1672.4 983.4 L1674.0 982.9 L1675.6 980.6 L1677.2 977.2 L1678.8 976.3 L1680.4 973.4 L1682.1 972.4 L1683.8 969.4 L1685.5 968.6 L1687.2 966.8 L1689.0 965.1 L1690.8 962.4 L1692.6 961.7 L1694.5 959.5 L1696.4 957.2 L1698.4 955.3 L1700.4 954.4 L1702.4 951.9 L1704.5 951.7 L1706.6 949.0 L1708.8 948.8 L1711.0 946.4 L1713.3 945.4 L1715.6 945.2 L1717.9 943.6 L1720.3 943.5 L1722.7 941.1 L1725.1 941.6 L1727.5 940.9 L1729.9 940.1 L1732.3 939.5 L1734.8 937.7 L1737.3 937.6 L1739.8 937.4 L1742.3 936.8 L1744.8 935.2 L1747.3 936.4 L1749.8 935.6 L1752.3 934.4 L1754.8 934.0 L1757.3 933.6 L1759.8 934.3 L1762.3 932.8 L1764.8 932.8 L1767.3 933.0 L1769.8 931.5 L1772.3 931.0 L1774.6 929.9 L1776.8 929.8 L1778.9 926.9 L1781.0 926.6 L1782.9 923.4 L1784.6 922.8 L1786.5 920.1 L1789.0 919.5 L1791.1 922.1 L1792.9 922.9 L1794.8 924.1 L1797.2 926.7 L1799.6 926.2 L1802.1 926.3 L1804.6 928.0 L1807.1 926.7 L1809.6 926.6 L1812.1 928.0 L1814.6 926.7 L1817.1 927.7 L1819.6 927.0 L1822.1 928.4 L1824.6 927.1 L1827.1 928.6 L1829.6 927.2 L1832.1 928.4 L1834.5 928.4 L1836.8 930.6 L1839.0 932.0 L1840.9 932.0 L1842.3 935.7 L1843.5 937.1 L1844.6 940.4 L1845.7 941.6 L1846.7 944.8 L1847.6 947.1 L1848.5 948.5 L1849.4 952.5 L1850.3 953.8 L1851.1 956.1 L1851.9 959.1 L1852.7 962.8 L1853.5 963.8 L1854.3 968.0 L1855.0 968.9 L1855.7 972.6 L1856.4 974.3 L1857.1 978.0 L1857.8 979.6 L1858.5 984.0 L1859.1 985.9 L1859.7 987.7 L1860.3 990.8 L1860.9 992.4 L1861.6 996.6 L1862.3 998.1 L1863.0 1002.2 L1863.7 1003.5 L1864.4 1007.4 L1865.1 1010.2 L1865.8 1012.7 L1866.4 1014.1 L1867.0 1018.2 L1867.6 1020.1 L1868.2 1023.0 L1868.8 1024.3 L1869.4 1028.1 L1870.0 1029.9 L1870.6 1033.2 L1871.2 1034.9 L1871.8 1038.6 L1872.4 1041.4 L1873.0 1043.0 L1873.6 1046.4 L1874.2 1048.3 L1874.8 1051.9 L1875.4 1054.5 L1876.0 1057.0 L1876.6 1058.6 L1877.2 1061.9 L1877.8 1063.9 L1878.4 1066.0 L1879.0 1069.9 L1879.6 1072.3 L1880.2 1073.7 L1880.9 1076.1 L1881.6 1079.9 L1882.3 1082.6 L1883.1 1084.8 L1883.9 1086.7 L1884.8 1088.9 L1885.9 1092.5 L1887.2 1094.9 L1888.7 1095.9 L1890.3 1098.7 L1891.8 1100.0 L1893.2 1103.4 L1894.5 1105.9 L1895.7 1106.5 L1896.9 1110.2 L1898.0 1111.7 L1899.1 1114.1 L1900.2 1116.5 L1901.2 1118.5 L1902.1 1121.3 L1903.0 1123.6 L1903.9 1127.3 L1904.8 1128.4 L1905.7 1132.3 L1906.6 1133.7 L1907.5 1136.1 L1908.4 1138.3 L1909.3 1141.8 L1910.3 1143.5 L1911.3 1146.8 L1912.3 1148.2 L1913.3 1152.2 L1914.5 1153.0 L1916.3 1156.3 L1918.6 1157.2 L1920.8 1154.6 L1922.1 1152.2 L1923.2 1151.0 L1924.4 1148.0 L1925.5 1146.4 L1926.5 1144.5 L1927.5 1140.5 L1928.5 1138.2 L1929.5 1135.8 L1930.4 1134.7 L1931.3 1130.6 L1932.2 1129.2 L1933.1 1126.1 L1934.0 1124.8 L1935.0 1121.0 L1936.0 1119.4 L1937.0 1116.9 L1938.0 1114.6 L1939.1 1111.9 L1940.3 1109.0 L1941.5 1107.4 L1942.8 1103.9 L1944.7 1103.5 L1946.7 1105.1 L1948.1 1106.3 L1949.4 1109.8 L1950.6 1110.4 L1951.7 1114.4 L1952.7 1115.2 L1953.7 1118.3 L1954.6 1120.5 L1955.5 1124.0 L1956.3 1125.2 L1957.1 1129.0 L1957.9 1130.3 L1958.7 1134.1 L1959.5 1136.3 L1960.4 1138.8 L1961.4 1139.8 L1962.5 1142.4 L1963.6 1145.9 L1964.9 1147.0 L1966.8 1150.2 L1969.0 1150.2 L1971.5 1150.9 L1973.5 1149.9 L1974.9 1147.0 L1976.2 1145.3 L1977.7 1142.4 L1979.1 1141.1 L1980.6 1139.2 L1982.4 1135.8 L1984.5 1136.1 L1986.8 1133.5 L1989.2 1135.5 L1990.5 1137.9 L1991.6 1138.9 L1992.7 1142.8 L1993.8 1145.5 L1994.8 1146.7 L1995.7 1150.1 L1996.6 1151.4 L1997.5 1153.8 L1998.4 1156.9 L1999.3 1159.7 L2000.2 1161.8 L2001.1 1164.3 L2002.0 1166.5 L2002.9 1168.0 L2003.8 1171.7 L2004.7 1173.5 L2005.6 1175.8 L2006.5 1178.6 L2007.5 1181.9 L2008.7 1183.1 L2010.0 1185.0 L2011.4 1187.4 L2013.0 1190.6 L2014.7 1191.1 L2016.5 1193.5 L2018.3 1196.4 L2020.2 1196.9 L2022.2 1199.1 L2024.2 1199.7 L2026.2 1202.4 L2028.2 1204.3 L2030.2 1204.8 L2032.3 1206.3 L2034.4 1208.4 L2036.6 1209.1 L2038.8 1211.4 L2041.0 1212.7 L2043.2 1214.0 L2045.5 1213.6 L2047.8 1216.1 L2050.2 1215.4 L2052.7 1217.0 L2055.2 1216.3 L2057.7 1217.9 L2060.2 1218.2 L2062.7 1217.8 L2065.2 1219.4 L2067.7 1219.0 L2070.2 1219.5 L2072.6 1220.3 L2075.0 1221.2 L2077.4 1223.4 L2079.8 1224.4 L2082.1 1224.2 L2084.4 1226.5 L2086.7 1226.6 L2089.0 1228.5 L2091.3 1228.5 L2093.6 1231.1 L2096.0 1230.5 L2098.4 1232.9 L2100.8 1232.2 L2103.2 1234.5 L2105.6 1233.9 L2108.1 1235.7 L2110.6 1235.6 L2113.1 1237.4 L2115.6 1236.9 L2118.1 1238.0 L2120.6 1238.5 L2123.1 1238.4 L2125.6 1238.9 L2128.1 1240.2 L2130.6 1240.7 L2133.1 1239.8 L2135.6 1241.6 L2138.1 1240.5 L2140.6 1241.9 L2143.1 1240.6 L2145.6 1241.8 L2148.1 1240.9 L2150.6 1240.8 L2153.1 1242.1 L2155.6 1241.3 L2158.1 1241.5 L2160.6 1242.2 L2163.1 1241.1 L2165.6 1242.3 L2168.1 1240.9 L2170.6 1241.7 L2173.1 1241.5 L2175.6 1240.2 L2178.1 1241.8 L2180.6 1240.2 L2183.2 1241.5 L2185.7 1240.2 L2188.2 1241.8 L2190.7 1241.8 L2193.3 1240.5 L2195.8 1241.8 L2198.3 1241.7 L2200.8 1240.8 L2203.4 1240.4 L2205.9 1240.5 L2208.4 1241.5 L2210.9 1240.6 L2213.4 1241.5 L2215.9 1241.3 L2218.4 1241.3 L2220.9 1241.4 L2223.4 1241.0 L2225.9 1239.8 L2228.4 1240.7 L2230.9 1239.2 L2233.4 1240.7 L2235.9 1239.0 L2238.4 1240.0 L2240.9 1239.9 L2243.4 1238.9 L2245.9 1239.7 L2248.4 1238.8 L2250.9 1238.6 L2253.4 1238.5 L2255.9 1239.3 L2258.4 1239.3 L2260.9 1237.8 L2263.4 1239.0 L2265.9 1238.6 L2268.4 1237.2 L2270.9 1237.8 L2273.4 1235.9 L2275.8 1236.1 L2278.1 1234.9 L2280.2 1232.6 L2281.9 1231.2 L2283.4 1227.9 L2285.0 1227.5 L2286.6 1223.9 L2288.1 1223.4 L2289.6 1220.1 L2291.1 1219.3 L2292.7 1216.0 L2294.2 1214.9 L2295.6 1211.6" fill="none" stroke="#ff0000" stroke-width="11.0" stroke-linejoin="round" stroke-linecap="round"/>
<path d="M219.8 827.1 L221.4 841.3 L223.3 815.1 L225.6 838.3 L228.1 815.8 L230.6 836.9 L232.7 816.1 L233.9 814.1 L234.9 838.4 L235.8 821.5 L236.7 847.6 L237.6 826.4 L238.6 848.4 L239.8 829.3 L241.7 855.6 L243.9 831.3 L245.3 845.9 L246.5 846.2 L247.7 820.7 L248.9 824.2 L250.2 839.6 L252.0 822.4 L254.5 837.9 L256.9 825.2 L259.2 845.5 L261.6 824.2 L264.1 841.0 L266.2 824.4 L267.8 841.6 L269.3 813.9 L270.8 810.0 L272.4 807.4 L274.6 830.8 L277.1 813.1 L279.4 830.0 L281.7 814.5 L284.1 820.2 L286.6 839.5 L288.6 813.8 L290.2 808.0 L291.6 807.0 L293.1 831.8 L294.8 828.2 L297.2 810.1 L299.1 824.4 L300.6 804.6 L302.1 831.1 L304.3 815.9 L305.8 827.2 L306.8 814.1 L307.6 823.4 L308.4 809.5 L309.2 801.2 L310.0 823.9 L311.0 793.0 L312.3 794.9 L313.6 809.8 L315.0 808.0 L316.6 785.9 L318.9 807.5 L321.3 808.9 L323.4 790.8 L325.5 804.5 L327.7 788.3 L330.2 803.9 L332.0 789.8 L333.2 807.9 L334.3 780.6 L335.4 797.3 L336.5 778.2 L337.8 796.8 L339.8 796.8 L342.0 773.6 L344.3 772.3 L346.8 789.8 L349.3 798.6 L350.7 782.7 L351.8 796.6 L352.9 782.5 L354.0 809.9 L355.2 808.7 L356.8 790.7 L359.2 810.2 L361.7 786.9 L364.2 814.1 L366.7 788.0 L368.5 813.6 L369.8 787.1 L370.9 801.7 L372.0 788.0 L373.3 802.8 L375.1 776.3 L377.6 796.3 L379.7 801.7 L381.5 787.8 L383.2 809.3 L385.0 784.9 L386.5 804.1 L387.8 794.5 L389.1 792.8 L390.4 811.0 L391.8 804.2 L393.4 802.8 L395.6 823.9 L397.8 801.0 L399.4 813.6 L400.8 800.1 L402.3 790.0 L404.3 811.3 L406.8 812.3 L409.1 793.1 L411.2 787.6 L413.1 798.5 L414.7 822.0 L415.8 797.9 L416.7 818.4 L417.5 809.5 L418.3 833.0 L419.1 832.6 L420.0 828.2 L420.9 818.3 L421.8 833.5 L422.7 834.8 L423.6 821.9 L424.5 824.1 L425.5 831.6 L426.5 843.0 L427.5 849.1 L428.5 839.8 L429.5 850.6 L430.5 839.7 L431.5 858.0 L432.5 850.8 L433.5 859.0 L434.5 854.2 L435.5 863.4 L436.5 869.0 L437.5 860.8 L438.5 873.0 L439.5 866.8 L440.4 877.4 L441.3 873.5 L442.2 872.6 L443.1 885.9 L444.0 880.9 L444.9 887.9 L445.8 885.5 L446.7 893.7 L447.6 896.4 L448.5 892.9 L449.4 900.7 L450.3 903.0 L451.2 898.6 L452.1 908.0 L453.0 903.9 L454.0 912.6 L455.0 911.7 L456.0 913.6 L457.0 922.6 L458.1 918.3 L459.2 924.3 L460.3 928.6 L461.5 925.3 L462.7 931.3 L463.9 930.4 L465.2 933.1 L466.5 938.0 L467.8 937.1 L469.2 937.2 L470.6 948.1 L472.0 942.5 L473.4 949.3 L474.8 946.6 L476.2 956.1 L477.7 951.9 L479.2 959.5 L480.8 953.9 L482.4 963.7 L484.0 958.0 L485.7 967.1 L487.4 962.2 L489.1 971.4 L490.8 966.8 L492.6 974.2 L494.4 971.9 L496.2 978.7 L498.0 979.3 L499.9 975.0 L501.8 984.8 L503.7 979.9 L505.6 986.9 L507.5 984.6 L509.5 990.6 L511.5 984.5 L513.6 993.0 L515.8 987.5 L518.0 990.6 L520.2 996.9 L522.5 999.9 L524.8 1000.2 L527.1 1001.0 L529.4 997.9 L531.8 995.7 L534.2 1004.2 L536.6 999.9 L539.0 1006.4 L541.3 1000.5 L543.6 1002.6 L545.9 1010.6 L548.2 1003.1 L550.6 1011.2 L553.0 1010.7 L555.3 1007.8 L557.6 1012.7 L560.0 1010.2 L562.5 1016.5 L565.0 1011.2 L567.5 1014.9 L569.9 1013.4 L572.3 1015.2 L574.8 1014.8 L577.3 1006.0 L579.7 1013.8 L582.0 1016.2 L584.4 1010.0 L586.9 1015.4 L589.4 1009.5 L591.7 1014.3 L593.9 1009.6 L596.0 1011.9 L598.1 1006.3 L600.3 1009.3 L602.6 1003.0 L604.9 1002.7 L607.2 1008.1 L609.5 1000.4 L611.8 1002.7 L614.1 995.1 L616.4 1000.4 L618.7 994.5 L621.1 999.3 L623.5 994.6 L625.9 993.3 L628.3 995.6 L630.7 992.0 L633.1 994.7 L635.5 989.3 L637.9 991.2 L640.3 991.0 L642.7 986.4 L645.1 989.5 L647.5 984.9 L649.9 987.6 L652.3 982.9 L654.7 986.0 L657.1 983.9 L659.5 980.1 L661.9 979.8 L664.3 981.6 L666.7 978.9 L669.1 980.7 L671.5 976.5 L673.9 979.2 L676.3 975.1 L678.7 976.6 L681.1 972.9 L683.5 976.2 L685.9 972.4 L688.3 974.0 L690.7 969.5 L693.1 972.3 L695.5 967.8 L697.9 971.1 L700.3 966.2 L702.7 965.3 L705.1 965.2 L707.5 968.5 L709.9 966.0 L712.3 963.0 L714.7 965.0 L717.1 962.1 L719.5 962.9 L721.9 958.5 L724.3 961.3 L726.7 958.4 L729.1 959.4 L731.5 959.9 L733.9 954.4 L736.3 954.9 L738.7 957.0 L741.1 955.8 L743.5 951.9 L745.9 954.1 L748.3 952.6 L750.7 953.2 L753.1 952.0 L755.5 951.6 L757.9 950.5 L760.3 945.2 L762.7 947.3 L765.1 946.8 L767.5 947.2 L769.9 946.0 L772.3 941.4 L774.7 944.5 L777.2 939.5 L779.7 939.6 L782.2 942.2 L784.7 937.5 L787.2 941.1 L789.7 936.1 L792.1 938.5 L794.5 936.2 L796.9 935.2 L799.3 937.0 L801.7 933.6 L804.1 935.1 L806.4 935.0 L808.7 930.2 L811.0 931.8 L813.3 926.9 L815.6 929.3 L817.9 928.3 L820.2 924.5 L822.4 925.1 L824.6 921.7 L826.8 924.0 L829.1 921.9 L831.4 919.2 L833.7 917.8 L836.0 917.7 L838.3 915.2 L840.6 915.7 L842.9 913.3 L845.2 912.8 L847.5 911.9 L849.8 910.8 L852.1 908.8 L854.4 908.2 L856.7 906.4 L859.0 905.9 L861.3 903.8 L863.6 904.0 L865.9 902.4 L868.2 901.6 L870.5 899.4 L872.8 899.5 L875.1 897.9 L877.4 897.2 L879.7 895.1 L882.0 893.5 L884.3 893.5 L886.6 891.8 L888.9 891.3 L891.2 889.6 L893.5 889.2 L895.8 886.9 L898.1 887.4 L900.4 885.1 L902.7 885.1 L905.0 883.0 L907.3 882.6 L909.6 880.4 L911.9 880.3 L914.2 879.3 L916.5 877.1 L918.8 877.4 L921.1 875.2 L923.4 875.3 L925.7 872.8 L928.0 872.9 L930.3 871.1 L932.6 870.7 L934.9 868.7 L937.2 868.8 L939.5 866.5 L941.8 866.7 L944.1 864.2 L946.4 863.1 L948.7 862.0 L951.0 861.0 L953.3 860.8 L955.6 859.1 L957.9 858.5 L960.2 857.6 L962.5 855.5 L964.8 855.7 L967.1 854.2 L969.4 852.2 L971.7 852.4 L974.0 850.0 L976.3 849.7 L978.6 847.9 L980.9 847.8 L983.2 846.5 L985.5 844.8 L987.8 844.7 L990.1 842.5 L992.4 842.0 L994.7 841.0 L997.0 839.0 L999.3 838.7 L1001.6 836.7 L1003.9 836.7 L1006.2 834.4 L1008.5 833.5 L1010.8 832.3 L1013.1 832.2 L1015.4 831.7 L1017.7 829.3 L1020.0 829.3 L1022.3 828.5 L1024.6 826.4 L1026.9 826.6 L1029.2 824.4 L1031.5 824.3 L1033.8 822.4 L1036.2 821.5 L1038.6 821.4 L1041.0 819.1 L1043.4 819.1 L1045.8 817.6 L1048.2 817.2 L1050.6 815.6 L1053.0 815.1 L1055.4 814.6 L1057.8 812.5 L1060.2 812.7 L1062.6 811.8 L1065.0 809.6 L1067.4 810.0 L1069.8 808.1 L1072.2 808.0 L1074.6 805.9 L1077.0 806.3 L1079.4 804.1 L1081.8 803.6 L1084.2 803.5 L1086.6 801.5 L1089.0 801.6 L1091.4 799.7 L1093.8 798.8 L1096.2 799.1 L1098.6 796.7 L1101.0 796.6 L1103.4 795.6 L1105.8 794.7 L1108.2 793.8 L1110.6 792.8 L1113.0 791.9 L1115.4 791.1 L1117.8 790.2 L1120.2 789.4 L1122.6 788.6 L1125.0 787.8 L1127.4 786.9 L1129.8 786.0 L1132.2 785.1 L1134.6 784.3 L1137.0 783.5 L1139.4 782.7 L1141.8 782.0 L1144.3 781.3 L1146.8 780.8 L1149.3 780.4 L1151.8 780.2 L1154.3 780.1 L1156.8 779.9 L1159.3 779.8 L1161.8 779.7 L1164.3 779.6 L1166.8 779.5 L1169.3 779.4 L1171.8 779.3 L1174.3 779.2 L1176.8 779.1 L1179.3 779.1 L1181.8 779.0 L1184.3 779.0 L1186.8 778.9 L1189.3 778.9 L1191.8 778.8 L1194.3 778.8 L1196.8 778.8 L1199.3 778.8 L1201.8 778.8 L1204.3 778.8 L1206.8 778.8 L1209.3 778.8 L1211.8 778.8 L1214.3 778.8 L1216.8 778.8 L1219.3 778.8 L1221.8 778.8 L1224.3 778.8 L1226.8 778.9 L1229.3 778.9 L1231.8 778.9 L1234.3 778.9 L1236.8 778.9 L1239.3 779.0 L1241.8 779.0 L1244.3 779.0 L1246.8 779.1 L1249.3 779.1 L1251.8 779.2 L1254.3 779.2 L1256.8 779.2 L1259.3 779.3 L1261.8 779.3 L1264.3 779.4 L1266.8 779.4 L1269.3 779.5 L1271.8 779.6 L1274.3 779.8 L1276.8 780.0 L1279.3 780.3 L1281.8 780.7 L1284.3 781.1 L1286.8 781.5 L1289.3 782.0 L1291.8 782.5 L1294.3 783.0 L1296.8 783.5 L1299.3 783.9 L1301.8 784.4 L1304.3 784.9 L1306.8 785.3 L1309.3 785.6 L1311.8 786.0 L1314.3 786.2 L1316.8 786.5 L1319.3 786.8 L1321.8 787.1 L1324.3 787.4 L1326.8 787.7 L1329.3 788.0 L1331.8 788.3 L1334.3 788.5 L1336.8 788.8 L1339.3 789.1 L1341.8 789.3 L1344.3 789.5 L1346.8 789.7 L1349.3 789.9 L1351.8 790.1 L1354.3 790.2 L1356.8 790.3 L1359.3 790.4 L1361.8 790.5 L1364.3 790.5 L1366.8 790.4 L1369.3 790.3 L1371.8 790.2 L1374.3 790.0 L1376.8 789.8 L1379.3 789.5 L1381.8 789.2 L1384.3 788.8 L1386.8 788.4 L1389.3 788.0 L1391.8 787.6 L1394.3 787.2 L1396.8 786.8 L1399.3 786.4 L1401.8 785.9 L1404.3 785.5 L1406.8 785.1 L1409.3 784.7 L1411.8 784.4 L1414.3 784.0 L1416.8 783.7 L1419.3 783.4 L1421.8 783.2 L1424.3 783.0 L1426.8 782.8 L1429.3 782.7 L1431.8 782.5 L1434.3 782.3 L1436.8 782.1 L1439.3 781.9 L1441.8 781.7 L1444.3 781.6 L1446.8 781.4 L1449.3 781.2 L1451.8 781.1 L1454.3 780.9 L1456.8 780.8 L1459.3 780.7 L1461.8 780.6 L1464.3 780.5 L1466.8 780.4 L1469.3 780.3 L1471.8 780.3 L1474.3 780.2 L1476.8 780.2 L1479.3 780.2 L1481.8 780.2 L1484.3 780.2 L1486.8 780.2 L1489.3 780.2 L1491.8 780.2 L1494.3 780.2 L1496.8 780.3 L1499.3 780.3 L1501.8 780.3 L1504.3 780.3 L1506.8 780.3 L1509.3 780.3 L1511.8 780.4 L1514.3 780.4 L1516.8 780.4 L1519.3 780.4 L1521.8 780.5 L1524.3 780.5 L1526.8 780.5 L1529.3 780.6 L1531.8 780.6 L1534.3 780.6 L1536.8 780.7 L1539.3 780.7 L1541.8 781.4 L1544.3 780.4 L1546.8 781.8 L1549.3 781.5 L1551.8 780.3 L1554.3 780.4 L1556.8 780.3 L1559.3 780.6 L1561.8 781.9 L1564.3 781.1 L1566.8 782.6 L1569.2 782.2 L1571.3 785.3 L1573.3 785.4 L1575.1 788.3 L1576.7 790.5 L1578.1 792.9 L1579.4 794.0 L1580.7 795.8 L1582.0 799.3 L1583.3 801.0 L1584.5 802.6 L1585.7 806.4 L1586.8 808.9 L1587.9 811.1 L1588.9 812.4 L1589.9 815.3 L1590.8 818.7 L1591.7 821.0 L1592.5 822.6 L1593.3 826.5 L1594.1 828.6 L1594.9 831.6 L1595.7 834.1 L1596.5 835.6 L1597.3 839.0 L1598.0 840.7 L1598.7 844.1 L1599.4 845.3 L1600.1 849.4 L1600.8 850.3 L1601.5 853.9 L1602.2 855.7 L1602.9 859.5 L1603.6 860.7 L1604.3 863.7 L1605.0 866.6 L1605.7 869.0 L1606.5 871.4 L1607.3 873.0 L1608.1 876.9 L1608.9 879.4 L1609.8 881.7 L1610.7 884.5 L1611.6 885.6 L1612.5 888.9 L1613.5 890.3 L1614.5 892.8 L1615.4 896.6 L1616.3 897.9 L1617.2 901.2 L1618.2 903.7 L1619.4 904.5 L1621.1 907.9 L1623.0 908.2 L1625.5 909.9 L1626.9 905.8 L1628.0 904.9 L1629.1 902.5 L1630.2 899.0 L1631.2 897.8 L1632.1 894.1 L1633.0 892.8 L1633.8 888.9 L1634.6 886.0 L1635.4 884.7 L1636.1 881.3 L1636.8 879.8 L1637.5 876.3 L1638.3 874.9 L1639.0 872.3 L1639.7 868.8 L1640.4 867.4 L1641.1 863.5 L1641.8 861.0 L1642.6 859.5 L1643.5 856.1 L1644.6 855.1 L1645.8 851.0 L1647.1 850.3 L1648.5 848.0 L1649.9 845.9 L1651.4 842.4 L1652.9 841.7 L1654.5 838.4 L1656.1 837.6 L1657.8 834.4 L1659.6 833.5 L1661.4 830.7 L1663.3 829.8 L1665.2 827.2 L1667.1 826.3 L1669.1 825.1 L1671.1 822.4 L1673.2 821.4 L1675.3 818.8 L1677.4 817.4 L1679.5 815.8 L1681.6 814.3 L1683.6 814.2 L1685.6 811.3 L1687.7 811.3 L1689.8 808.4 L1691.9 807.1 L1694.0 805.3 L1696.1 805.7 L1698.3 803.1 L1700.5 801.6 L1702.8 800.7 L1705.2 801.1 L1707.6 799.1 L1710.0 799.1 L1712.4 797.5 L1714.9 797.5 L1717.4 796.0 L1719.9 795.0 L1722.4 795.7 L1724.9 794.3 L1727.4 794.7 L1729.9 794.6 L1732.4 793.0 L1734.9 793.4 L1737.4 792.2 L1739.9 792.9 L1742.4 792.4 L1744.9 791.5 L1747.4 791.2 L1749.9 791.7 L1752.4 790.4 L1754.9 791.1 L1757.4 789.7 L1759.9 791.0 L1762.4 789.4 L1764.9 790.5 L1767.4 788.9 L1769.9 789.6 L1772.4 788.1 L1774.8 788.5 L1777.2 787.7 L1779.5 784.9 L1781.7 785.3 L1783.6 782.0 L1785.4 781.4 L1787.5 779.3 L1790.0 780.5 L1792.0 781.2 L1793.8 784.2 L1795.8 784.5 L1797.8 786.3 L1799.9 788.7 L1802.2 788.4 L1804.7 789.0 L1807.2 790.2 L1809.7 789.3 L1812.2 790.5 L1814.7 789.0 L1817.2 790.2 L1819.7 788.9 L1822.2 789.1 L1824.7 790.3 L1827.2 789.2 L1829.8 789.2 L1832.4 790.2 L1834.9 789.3 L1837.5 790.3 L1840.0 790.6 L1842.6 789.3 L1845.1 790.5 L1847.4 790.5 L1849.0 793.3 L1850.5 794.9 L1852.0 796.6 L1853.6 800.1 L1855.1 800.6 L1856.6 804.0 L1858.0 805.4 L1859.3 808.6 L1860.5 809.6 L1861.6 813.2 L1862.6 814.4 L1863.5 818.5 L1864.4 819.2 L1865.3 823.2 L1866.2 825.7 L1867.2 826.9 L1868.2 830.6 L1869.2 831.8 L1870.2 834.1 L1871.2 836.9 L1872.2 839.7 L1873.2 843.0 L1874.2 845.7 L1875.2 846.8 L1876.2 849.6 L1877.2 853.3 L1878.2 854.8 L1879.2 858.3 L1880.2 860.9 L1881.2 861.9 L1882.3 865.6 L1883.4 867.0 L1884.6 870.3 L1885.8 871.1 L1887.0 875.0 L1888.2 875.9 L1889.3 878.1 L1890.4 881.1 L1891.5 884.2 L1892.6 886.0 L1893.7 889.0 L1894.7 890.2 L1895.8 892.9 L1896.9 896.5 L1898.0 898.2 L1899.1 901.8 L1900.2 903.2 L1901.3 906.2 L1902.4 908.2 L1903.4 911.5 L1904.4 912.7 L1905.4 915.9 L1906.3 917.3 L1907.2 920.8 L1908.1 922.4 L1909.0 926.0 L1910.0 928.5 L1911.1 930.5 L1912.3 931.6 L1913.7 935.4 L1915.1 936.4 L1916.6 939.5 L1918.4 941.1 L1920.9 940.6 L1923.1 939.7 L1924.9 938.5 L1926.6 935.5 L1928.2 934.7 L1929.6 931.8 L1930.9 928.9 L1932.1 928.2 L1933.3 924.8 L1934.5 923.7 L1935.8 921.1 L1937.0 917.7 L1938.3 916.5 L1939.7 913.0 L1941.5 912.9 L1943.5 911.2 L1945.9 910.2 L1948.2 910.0 L1949.9 913.2 L1951.5 914.3 L1953.0 917.3 L1954.5 918.0 L1955.8 921.7 L1957.0 923.1 L1958.2 926.5 L1959.5 927.9 L1960.9 930.1 L1962.3 932.8 L1963.7 934.3 L1965.3 937.3 L1967.5 937.3 L1970.0 939.2 L1972.5 938.2 L1974.5 937.7 L1975.8 934.3 L1977.0 933.0 L1978.3 929.5 L1980.0 927.5 L1981.7 926.7 L1983.6 925.4 L1986.1 923.8 L1988.3 925.2 L1990.3 927.7 L1992.1 929.9 L1993.5 931.2 L1994.7 934.0 L1995.8 936.4 L1996.9 938.0 L1998.0 941.3 L1998.9 942.6 L1999.8 946.2 L2000.7 947.7 L2001.6 951.8 L2002.5 952.6 L2003.5 956.2 L2004.5 957.7 L2005.5 961.1 L2006.5 962.3 L2007.6 966.1 L2008.8 967.3 L2010.0 970.9 L2011.2 972.7 L2012.5 974.2 L2013.8 977.5 L2015.2 978.1 L2016.7 980.6 L2018.3 983.4 L2019.9 984.1 L2021.6 987.6 L2023.2 988.4 L2024.8 991.6 L2026.4 992.4 L2028.0 995.5 L2029.7 996.3 L2031.4 999.5 L2033.1 1000.3 L2034.8 1002.9 L2036.5 1003.7 L2038.2 1006.8 L2040.0 1008.0 L2041.8 1009.5 L2043.7 1012.3 L2045.7 1012.8 L2047.7 1015.2 L2049.8 1016.2 L2051.9 1017.4 L2054.0 1018.8 L2056.1 1021.5 L2058.2 1021.6 L2060.4 1024.1 L2062.5 1024.6 L2064.6 1026.0 L2066.6 1028.6 L2068.6 1030.3 L2070.6 1031.0 L2072.5 1033.7 L2074.4 1035.5 L2076.4 1036.1 L2078.4 1037.7 L2080.4 1040.4 L2082.4 1040.7 L2084.4 1043.6 L2086.4 1045.0 L2088.3 1047.0 L2090.2 1047.4 L2092.1 1049.0 L2094.0 1051.1 L2096.0 1053.3 L2098.0 1055.3 L2100.0 1056.0 L2102.1 1057.1 L2104.2 1059.9 L2106.4 1060.0 L2108.6 1061.9 L2110.9 1062.4 L2113.2 1064.6 L2115.5 1064.2 L2117.8 1065.4 L2120.2 1066.2 L2122.6 1067.5 L2125.0 1069.4 L2127.4 1068.9 L2129.8 1071.0 L2132.3 1070.3 L2134.8 1071.4 L2137.3 1073.0 L2139.8 1072.2 L2142.3 1072.3 L2144.8 1073.2 L2147.3 1074.7 L2149.8 1073.8 L2152.3 1075.7 L2154.8 1075.0 L2157.3 1075.8 L2159.8 1076.8 L2162.3 1077.0 L2164.8 1076.5 L2167.3 1075.5 L2169.9 1077.0 L2172.4 1075.9 L2174.9 1075.8 L2177.4 1076.8 L2179.9 1075.9 L2182.4 1077.1 L2184.9 1076.8 L2187.4 1076.8 L2189.9 1077.7 L2192.4 1079.6 L2194.8 1079.1 L2197.2 1081.3 L2199.5 1080.8 L2201.8 1083.5 L2204.1 1083.1 L2206.4 1085.5 L2208.7 1085.2 L2211.0 1086.4 L2213.2 1088.8 L2215.3 1088.8 L2217.4 1091.6 L2219.6 1091.5 L2221.9 1093.8 L2224.3 1093.8 L2226.7 1096.2 L2229.2 1095.6 L2231.7 1095.5 L2234.1 1096.4 L2236.2 1093.8 L2238.1 1093.2 L2240.0 1091.0 L2241.8 1088.5 L2243.4 1087.5 L2244.9 1084.4 L2246.3 1083.4 L2247.7 1079.8 L2249.1 1079.0 L2250.4 1075.0 L2251.7 1073.9 L2253.0 1070.8 L2254.3 1069.2 L2255.6 1066.2 L2256.9 1065.1 L2258.2 1061.6 L2259.5 1059.5 L2260.8 1057.9 L2262.1 1054.9 L2263.3 1053.8 L2264.6 1050.0 L2265.8 1049.3 L2267.0 1045.8 L2268.1 1044.8 L2269.2 1040.8 L2270.2 1039.7 L2271.1 1035.7 L2271.9 1034.9 L2272.7 1030.9 L2273.5 1028.0 L2274.2 1027.1 L2274.9 1023.4 L2275.5 1021.8 L2276.1 1018.8 L2276.7 1015.4 L2277.2 1013.7 L2277.7 1011.5 L2278.2 1008.6 L2278.7 1004.7 L2279.2 1003.1 L2279.7 998.6 L2280.1 995.8 L2280.5 994.8 L2280.9 991.9 L2281.3 988.7 L2281.7 984.5 L2282.1 981.4 L2282.5 979.2 L2282.8 975.5 L2283.1 973.4 L2283.4 971.4 L2283.7 967.5 L2284.0 966.1 L2284.3 961.8 L2284.6 960.3 L2284.9 956.0 L2285.2 953.9 L2285.5 950.8 L2285.8 947.5 L2286.1 942.6 L2286.4 939.9 L2286.7 935.2 L2287.0 932.8 L2287.2 930.5 L2287.4 927.8 L2287.6 923.8 L2287.8 922.6 L2288.0 918.1 L2288.2 915.5 L2288.4 914.0 L2288.6 909.4 L2288.8 908.0 L2289.0 903.6 L2289.2 901.6 L2289.4 897.1 L2289.6 895.0 L2289.8 892.1 L2290.0 887.7 L2290.2 885.5 L2290.4 880.8 L2290.6 878.5 L2290.8 873.5 L2291.0 871.3 L2291.2 866.2 L2291.4 862.5 L2291.6 860.0 L2291.8 855.9 L2292.0 850.9 L2292.2 848.3 L2292.4 843.5 L2292.6 840.2 L2292.8 835.7 L2293.0 832.8 L2293.2 828.1 L2293.4 824.5 L2293.6 821.5 L2293.8 816.7 L2294.0 814.1 L2294.2 809.6 L2294.4 807.1 L2294.6 802.8 L2294.8 798.2 L2295.0 795.6 L2295.2 790.5 L2295.4 788.2 L2295.6 783.2 L2295.6 783.6" fill="none" stroke="#00ff00" stroke-width="11.0" stroke-linejoin="round" stroke-linecap="round"/>
<path d="M220.0 669.4 L222.5 682.4 L225.0 666.6 L227.5 683.2 L229.9 667.9 L232.1 679.6 L234.2 664.8 L236.3 689.8 L238.4 668.4 L240.5 685.7 L242.7 673.5 L245.0 693.8 L247.4 672.8 L249.9 699.9 L252.4 670.7 L254.9 693.8 L257.4 670.0 L259.9 694.5 L262.4 672.4 L264.9 667.7 L267.4 689.7 L269.9 667.1 L272.4 691.9 L274.9 693.6 L277.4 687.0 L279.9 663.8 L282.4 691.2 L284.9 683.0 L287.4 664.3 L289.9 669.3 L292.4 682.0 L294.9 667.8 L297.4 657.6 L299.9 665.7 L302.4 686.3 L304.9 662.5 L307.4 685.3 L309.9 671.0 L312.4 681.3 L314.9 670.3 L317.4 664.6 L319.9 676.7 L322.4 665.9 L324.9 675.9 L327.4 657.2 L329.9 678.9 L332.4 686.6 L334.9 658.2 L337.4 686.6 L339.9 659.3 L342.4 684.0 L344.9 662.8 L347.4 673.4 L349.9 658.6 L352.3 652.1 L354.7 672.7 L357.1 650.6 L359.6 675.8 L362.1 674.4 L364.5 657.4 L366.8 673.4 L369.1 674.6 L371.4 682.0 L373.8 657.0 L376.3 677.6 L378.8 664.0 L381.0 675.3 L382.9 658.5 L384.7 680.5 L386.5 650.7 L388.5 672.9 L390.8 648.4 L393.3 674.2 L395.7 646.0 L397.9 648.0 L400.0 675.4 L402.0 679.1 L404.0 658.3 L406.1 672.7 L408.3 661.2 L410.7 676.0 L413.2 679.8 L415.7 658.7 L418.2 680.9 L420.6 668.7 L422.8 670.9 L424.8 687.7 L426.5 674.7 L428.1 676.2 L429.7 687.0 L431.3 676.1 L432.9 690.9 L434.5 687.6 L436.1 696.9 L437.7 692.4 L439.2 693.4 L440.7 702.1 L442.2 697.2 L443.7 706.7 L445.1 703.0 L446.5 709.6 L447.9 711.6 L449.2 713.8 L450.5 716.7 L451.8 711.5 L453.1 720.2 L454.4 718.0 L455.7 725.6 L457.0 722.3 L458.4 730.0 L459.8 727.4 L461.3 733.3 L462.8 730.9 L464.3 738.8 L465.8 733.0 L467.3 736.7 L468.8 740.1 L470.3 739.1 L471.8 742.1 L473.3 752.2 L474.8 748.6 L476.3 754.1 L477.8 756.6 L479.3 753.4 L480.8 760.7 L482.4 758.4 L484.0 766.0 L485.7 762.0 L487.4 765.2 L489.1 764.8 L490.8 767.6 L492.6 774.1 L494.4 771.3 L496.3 780.0 L498.2 775.4 L500.2 776.8 L502.2 785.5 L504.2 784.3 L506.2 780.8 L508.1 784.5 L509.9 788.9 L511.5 785.9 L513.1 796.5 L514.6 789.1 L516.2 794.2 L518.0 800.7 L520.1 797.4 L522.3 802.7 L524.6 797.6 L526.8 804.2 L528.9 805.6 L530.9 804.5 L532.9 806.0 L535.0 811.8 L537.2 808.4 L539.6 812.5 L542.1 806.8 L544.6 813.1 L547.1 807.7 L549.6 816.5 L552.0 816.3 L554.4 811.5 L556.7 810.7 L559.0 818.6 L561.4 815.5 L563.9 821.7 L566.4 815.4 L568.9 821.2 L571.4 820.5 L573.9 822.9 L576.4 823.7 L578.9 817.6 L581.4 823.5 L583.9 821.3 L586.3 818.8 L588.6 820.5 L591.0 817.0 L593.4 816.5 L595.9 811.7 L598.4 811.6 L600.9 814.0 L603.4 807.2 L605.9 814.1 L608.4 807.7 L610.9 814.5 L613.4 807.3 L615.9 810.0 L618.3 805.4 L620.7 807.7 L623.1 807.6 L625.5 803.2 L627.9 803.7 L630.3 802.6 L632.7 804.1 L635.1 802.8 L637.5 799.2 L639.9 801.5 L642.3 800.7 L644.7 795.7 L647.1 795.2 L649.5 796.5 L651.9 793.9 L654.3 793.2 L656.7 793.7 L659.2 790.6 L661.7 794.2 L664.2 790.6 L666.7 791.7 L669.2 789.3 L671.7 791.3 L674.2 787.8 L676.7 790.7 L679.2 786.1 L681.7 788.4 L684.1 785.6 L686.5 787.8 L688.9 787.0 L691.3 783.0 L693.7 785.6 L696.1 781.0 L698.5 783.9 L701.0 783.7 L703.5 783.2 L706.0 778.6 L708.4 781.2 L710.8 779.7 L713.2 776.8 L715.6 778.7 L718.0 774.4 L720.4 773.5 L722.8 775.3 L725.2 771.0 L727.6 773.8 L730.0 769.8 L732.4 768.5 L734.8 771.4 L737.2 767.1 L739.6 766.7 L742.0 764.6 L744.4 767.7 L746.8 763.4 L749.2 765.5 L751.6 761.8 L754.0 763.5 L756.4 759.6 L758.7 759.6 L761.0 761.9 L763.3 756.2 L765.6 758.7 L767.9 754.8 L770.2 756.1 L772.5 753.3 L774.8 754.8 L777.1 749.7 L779.4 752.7 L781.7 748.6 L784.0 746.9 L786.3 746.1 L788.6 748.9 L790.9 747.7 L793.2 745.8 L795.5 741.2 L797.8 744.4 L800.1 743.1 L802.4 737.7 L804.7 737.5 L807.0 736.5 L809.3 737.6 L811.6 733.4 L813.9 735.7 L816.2 734.3 L818.5 731.3 L820.8 732.3 L823.1 729.5 L825.4 730.7 L827.7 727.2 L830.0 729.7 L832.4 726.5 L834.8 724.9 L837.2 724.5 L839.6 723.9 L842.0 722.2 L844.4 722.1 L846.8 720.5 L849.2 720.2 L851.6 719.9 L854.0 717.7 L856.4 718.2 L858.8 717.1 L861.2 716.3 L863.6 714.6 L866.0 714.7 L868.4 712.8 L870.8 713.2 L873.2 712.3 L875.6 710.5 L878.0 710.5 L880.4 708.6 L882.8 707.4 L885.2 707.4 L887.6 705.8 L890.0 705.9 L892.4 703.8 L894.8 704.0 L897.2 701.7 L899.6 701.9 L902.0 699.5 L904.4 699.8 L906.8 697.7 L909.2 697.6 L911.6 695.7 L914.0 695.6 L916.4 693.7 L918.8 693.9 L921.2 692.2 L923.6 692.0 L926.0 690.1 L928.4 690.0 L930.8 688.1 L933.2 687.1 L935.6 686.1 L938.0 686.1 L940.4 684.0 L942.8 684.4 L945.2 682.1 L947.6 682.6 L950.0 680.7 L952.4 680.8 L954.8 678.7 L957.2 678.9 L959.6 677.0 L962.0 677.1 L964.4 676.4 L966.8 674.4 L969.2 674.7 L971.6 672.7 L974.0 673.1 L976.4 671.5 L978.8 671.4 L981.2 669.4 L983.6 669.8 L986.0 669.4 L988.4 667.2 L990.8 667.6 L993.2 666.2 L995.6 665.1 L998.0 665.3 L1000.4 663.6 L1002.8 664.1 L1005.2 662.6 L1007.6 662.3 L1010.1 661.7 L1012.6 661.4 L1015.1 660.4 L1017.6 659.4 L1020.1 658.0 L1022.5 658.4 L1024.9 656.4 L1027.3 655.9 L1029.7 656.2 L1032.1 655.0 L1034.5 653.1 L1036.9 653.0 L1039.3 652.6 L1041.7 650.5 L1044.1 650.9 L1046.5 649.8 L1048.9 649.0 L1051.3 647.5 L1053.8 647.5 L1056.3 645.8 L1058.8 646.7 L1061.3 644.9 L1063.8 645.7 L1066.3 644.4 L1068.8 645.5 L1071.3 644.1 L1073.8 645.3 L1076.4 644.0 L1079.0 645.2 L1081.6 644.1 L1084.2 645.4 L1086.8 644.9 L1089.3 644.1 L1091.9 644.3 L1094.5 644.3 L1097.1 644.1 L1099.7 644.2 L1102.3 644.7 L1104.8 644.7 L1107.3 644.7 L1109.9 644.7 L1112.5 644.7 L1115.1 644.7 L1117.6 644.7 L1120.1 644.7 L1122.7 644.7 L1125.3 644.7 L1127.9 644.7 L1130.4 644.7 L1132.9 644.7 L1135.5 644.7 L1138.1 644.7 L1140.7 644.7 L1143.2 644.7 L1145.7 644.7 L1148.3 644.7 L1150.9 644.7 L1153.5 644.7 L1156.0 644.7 L1158.5 644.7 L1161.1 644.7 L1163.7 644.7 L1166.3 644.7 L1168.8 644.7 L1171.3 644.7 L1173.9 644.7 L1176.5 644.7 L1179.1 644.7 L1181.6 644.7 L1184.1 644.7 L1186.7 644.7 L1189.3 644.7 L1191.9 644.7 L1194.4 644.7 L1196.9 644.7 L1199.5 644.7 L1202.1 644.7 L1204.7 644.7 L1207.2 644.7 L1209.7 644.7 L1212.3 644.7 L1214.9 644.7 L1217.5 644.7 L1220.0 644.7 L1222.5 644.7 L1225.1 644.7 L1227.7 644.7 L1230.3 644.7 L1232.8 644.7 L1235.3 644.7 L1237.9 644.7 L1240.5 644.7 L1243.1 644.7 L1245.6 644.7 L1248.2 644.7 L1250.8 644.7 L1253.4 644.7 L1255.9 644.7 L1258.5 644.7 L1261.0 644.7 L1263.6 644.7 L1266.2 644.7 L1268.7 644.7 L1271.3 644.7 L1273.8 644.7 L1276.4 644.7 L1279.0 644.7 L1281.5 644.7 L1284.1 644.7 L1286.6 644.7 L1289.2 644.7 L1291.8 644.7 L1294.3 644.7 L1296.9 644.7 L1299.4 644.7 L1302.0 644.7 L1304.6 644.7 L1307.1 644.7 L1309.7 644.7 L1312.2 644.7 L1314.7 644.7 L1317.2 644.8 L1319.7 644.9 L1322.2 645.0 L1324.7 645.1 L1327.2 645.3 L1329.7 645.5 L1332.2 645.7 L1334.7 645.9 L1337.2 646.0 L1339.7 646.2 L1342.2 646.3 L1344.7 646.4 L1347.2 646.5 L1349.7 646.5 L1352.2 646.5 L1354.7 646.5 L1357.2 646.5 L1359.7 646.4 L1362.2 646.4 L1364.7 646.3 L1367.2 646.2 L1369.7 646.2 L1372.2 646.1 L1374.7 646.0 L1377.2 645.9 L1379.7 645.8 L1382.2 645.7 L1384.7 645.7 L1387.2 645.6 L1389.7 645.5 L1392.2 645.4 L1394.7 645.3 L1397.2 645.2 L1399.7 645.1 L1402.2 645.0 L1404.7 645.0 L1407.2 644.9 L1409.7 644.8 L1412.2 644.8 L1414.7 644.7 L1417.2 644.7 L1419.7 644.7 L1422.2 644.7 L1424.7 644.7 L1427.3 644.7 L1429.8 644.7 L1432.4 644.7 L1434.9 644.7 L1437.5 644.7 L1440.1 644.7 L1442.6 644.7 L1445.2 644.7 L1447.7 644.7 L1450.3 644.7 L1452.9 644.7 L1455.4 644.7 L1458.0 644.7 L1460.5 644.7 L1463.1 644.7 L1465.7 644.7 L1468.2 644.7 L1470.8 644.7 L1473.3 644.7 L1475.9 644.7 L1478.5 644.7 L1481.0 644.7 L1483.6 644.7 L1486.1 644.7 L1488.7 644.7 L1491.3 644.7 L1493.8 644.7 L1496.4 644.7 L1498.9 644.7 L1501.5 644.7 L1504.1 644.7 L1506.6 644.7 L1509.2 644.7 L1511.7 644.7 L1514.3 644.7 L1516.9 644.7 L1519.4 644.7 L1522.0 644.7 L1524.5 644.7 L1527.1 644.7 L1529.7 644.7 L1532.2 644.7 L1534.8 644.7 L1537.3 644.7 L1539.9 644.7 L1542.5 644.2 L1545.0 645.3 L1547.6 644.3 L1550.1 645.6 L1552.7 644.4 L1555.3 645.0 L1557.8 643.9 L1560.4 645.4 L1562.9 644.2 L1565.4 644.3 L1567.8 646.4 L1570.1 647.5 L1572.3 648.1 L1574.5 650.5 L1576.5 650.9 L1578.3 653.6 L1580.0 654.4 L1581.7 656.4 L1583.4 659.1 L1585.1 661.5 L1586.8 661.8 L1588.5 664.0 L1590.1 667.3 L1591.7 669.3 L1593.2 671.0 L1594.7 672.6 L1596.1 674.3 L1597.5 677.5 L1598.9 679.0 L1600.3 682.1 L1601.7 683.3 L1603.1 686.7 L1604.5 688.4 L1606.0 689.8 L1607.5 692.0 L1609.0 695.1 L1610.6 697.1 L1612.2 698.1 L1613.9 699.4 L1615.7 701.7 L1617.4 704.9 L1619.3 705.7 L1621.7 707.3 L1624.0 705.0 L1625.7 703.1 L1627.2 701.0 L1628.6 699.0 L1630.0 697.0 L1631.2 695.7 L1632.3 692.0 L1633.4 690.6 L1634.5 687.5 L1635.5 685.7 L1636.4 682.8 L1637.3 680.9 L1638.2 678.5 L1639.1 676.3 L1640.1 672.5 L1641.2 671.4 L1642.5 667.8 L1643.8 666.6 L1645.2 663.1 L1646.8 662.6 L1649.0 660.7 L1651.5 661.4 L1654.0 660.2 L1656.5 661.5 L1659.0 660.7 L1661.5 661.1 L1664.0 662.5 L1666.5 661.8 L1669.0 662.8 L1671.5 662.9 L1674.0 662.5 L1676.5 662.7 L1679.0 661.1 L1681.5 662.0 L1684.0 661.6 L1686.5 660.0 L1689.0 659.5 L1691.5 660.1 L1694.0 658.9 L1696.5 659.7 L1699.0 657.8 L1701.5 658.7 L1704.0 657.0 L1706.5 658.2 L1709.0 656.9 L1711.5 657.1 L1714.0 656.1 L1716.5 656.4 L1719.0 655.4 L1721.5 654.9 L1724.0 654.8 L1726.5 655.2 L1729.0 654.7 L1731.5 653.8 L1734.0 654.2 L1736.5 652.9 L1739.0 653.4 L1741.5 652.5 L1744.0 652.3 L1746.5 652.9 L1749.0 652.5 L1751.5 652.8 L1754.0 651.4 L1756.5 652.4 L1759.0 650.7 L1761.5 651.7 L1764.0 650.5 L1766.5 650.4 L1769.0 649.8 L1771.5 649.8 L1774.0 650.4 L1776.5 648.7 L1778.7 648.2 L1780.7 645.8 L1782.7 645.5 L1784.8 642.5 L1787.1 642.8 L1789.6 642.5 L1791.1 644.2 L1792.4 647.9 L1793.7 650.2 L1795.6 651.0 L1798.1 651.8 L1800.6 651.4 L1803.1 652.6 L1805.6 651.4 L1808.1 652.7 L1810.6 652.7 L1813.1 650.8 L1815.6 650.7 L1818.1 651.5 L1820.6 649.2 L1823.1 650.1 L1825.5 649.3 L1827.8 647.1 L1830.1 645.3 L1832.4 644.8 L1834.9 645.4 L1837.4 644.9 L1839.9 643.1 L1842.4 643.9 L1844.9 642.9 L1847.4 643.9 L1849.9 643.5 L1852.4 644.0 L1854.8 645.7 L1857.2 645.4 L1859.5 648.1 L1861.7 647.8 L1863.9 650.3 L1866.0 651.7 L1868.1 652.3 L1870.1 653.7 L1872.1 656.8 L1874.1 658.3 L1876.1 658.5 L1878.2 661.2 L1880.3 661.7 L1882.5 663.8 L1884.7 664.6 L1886.8 666.9 L1888.9 667.1 L1890.9 669.5 L1892.9 670.4 L1894.9 673.1 L1896.8 673.5 L1898.7 675.2 L1900.6 678.1 L1902.5 678.8 L1904.4 681.7 L1906.2 682.1 L1907.9 684.1 L1909.3 688.2 L1910.5 690.0 L1911.8 692.6 L1913.2 693.3 L1915.3 695.7 L1917.7 695.5 L1920.2 697.3 L1922.7 696.4 L1925.1 696.9 L1927.3 694.5 L1929.5 693.5 L1931.8 692.3 L1934.3 692.9 L1936.8 692.0 L1939.3 690.6 L1941.8 691.2 L1944.3 691.3 L1946.8 690.8 L1949.1 692.8 L1951.3 693.0 L1953.5 696.0 L1955.7 696.0 L1957.8 698.2 L1959.8 699.1 L1961.9 701.7 L1964.2 701.4 L1966.7 703.2 L1969.2 703.3 L1971.8 702.0 L1974.3 702.1 L1976.9 703.2 L1979.4 702.3 L1981.9 703.2 L1984.1 703.4 L1986.0 706.5 L1987.8 707.1 L1989.6 710.2 L1991.4 711.2 L1993.1 714.0 L1994.8 715.0 L1996.4 718.2 L1997.9 719.0 L1999.4 722.5 L2000.8 723.5 L2002.1 726.5 L2003.3 727.7 L2004.5 731.0 L2005.8 733.3 L2007.1 734.9 L2008.4 736.7 L2009.7 739.0 L2011.0 742.5 L2012.3 744.0 L2013.6 747.0 L2014.9 748.2 L2016.1 751.7 L2017.3 752.7 L2018.6 756.4 L2020.0 757.8 L2021.6 760.8 L2023.4 762.4 L2025.3 763.0 L2027.2 765.9 L2029.0 767.3 L2030.7 770.0 L2032.4 771.0 L2034.1 774.0 L2035.8 774.6 L2037.5 776.8 L2039.2 778.6 L2040.8 782.0 L2042.3 783.0 L2043.8 786.0 L2045.3 787.3 L2046.9 789.8 L2048.7 791.6 L2050.9 792.4 L2053.3 793.0 L2055.7 795.1 L2058.2 794.1 L2060.7 796.0 L2063.2 795.7 L2065.7 795.9 L2068.1 798.3 L2070.4 798.4 L2072.5 800.7 L2074.4 801.3 L2076.3 803.5 L2078.1 806.0 L2079.8 806.7 L2081.4 809.7 L2083.0 812.2 L2084.6 813.0 L2086.2 815.7 L2087.9 816.9 L2089.6 819.9 L2091.3 820.7 L2093.0 824.0 L2094.7 824.3 L2096.4 827.2 L2098.1 828.4 L2099.8 831.4 L2101.5 831.9 L2103.2 834.9 L2104.9 835.9 L2106.6 839.3 L2108.3 839.5 L2110.0 843.2 L2111.7 843.8 L2113.4 846.8 L2115.1 847.4 L2116.9 849.3 L2118.7 852.1 L2120.5 853.2 L2122.3 856.3 L2124.1 856.9 L2125.9 858.8 L2127.8 861.5 L2129.7 862.0 L2131.6 865.2 L2133.5 865.5 L2135.4 867.7 L2137.3 869.1 L2139.3 870.6 L2141.4 873.0 L2143.6 873.1 L2145.9 874.5 L2148.2 876.3 L2150.6 876.7 L2153.0 878.1 L2155.4 878.4 L2157.8 880.2 L2160.3 879.7 L2162.8 881.3 L2165.3 881.8 L2167.8 881.3 L2170.3 883.4 L2172.8 884.2 L2175.3 883.3 L2177.8 884.5 L2180.3 885.2 L2182.8 886.6 L2185.3 886.4 L2187.8 887.7 L2190.3 887.6 L2192.8 889.0 L2195.3 889.5 L2197.8 889.9 L2200.3 889.7 L2202.8 891.1 L2205.3 890.6 L2207.8 890.9 L2210.3 892.6 L2212.7 893.4 L2215.0 893.6 L2217.2 895.0 L2219.3 897.6 L2221.2 898.1 L2222.9 901.3 L2224.5 903.4 L2226.1 905.8 L2227.7 906.6 L2229.3 909.3 L2231.0 910.3 L2232.7 912.5 L2234.4 915.7 L2236.1 916.0 L2237.8 919.6 L2239.4 920.2 L2241.0 922.0 L2242.4 925.8 L2243.7 926.7 L2245.0 930.0 L2246.3 932.2 L2247.6 933.1 L2249.0 936.3 L2250.6 937.1 L2252.1 940.3 L2253.7 941.7 L2255.6 944.6 L2258.1 943.6 L2260.0 943.2 L2261.5 940.4 L2262.8 937.2 L2264.1 936.1 L2265.4 932.8 L2266.6 932.0 L2267.7 929.3 L2268.8 925.6 L2269.8 923.6 L2270.8 921.8 L2271.7 918.2 L2272.6 916.0 L2273.5 913.6 L2274.3 910.8 L2275.1 908.2 L2275.8 905.6 L2276.5 904.5 L2277.1 900.3 L2277.7 899.1 L2278.2 895.3 L2278.7 893.6 L2279.1 889.5 L2279.5 887.4 L2279.9 883.6 L2280.2 881.6 L2280.5 878.5 L2280.8 875.6 L2281.1 873.7 L2281.4 871.0 L2281.7 867.8 L2282.0 863.8 L2282.3 862.0 L2282.6 858.0 L2282.9 855.8 L2283.2 851.8 L2283.5 848.7 L2283.8 845.0 L2284.1 843.3 L2284.4 838.6 L2284.7 836.3 L2285.0 831.0 L2285.2 828.8 L2285.4 827.4 L2285.6 824.0 L2285.8 822.2 L2286.0 818.3 L2286.2 816.9 L2286.4 814.1 L2286.6 811.2 L2286.8 806.8 L2287.0 804.8 L2287.2 801.6 L2287.4 797.8 L2287.6 793.7 L2287.8 791.3 L2288.0 786.4 L2288.2 783.9 L2288.4 779.9 L2288.6 775.1 L2288.8 771.8 L2289.0 768.9 L2289.2 764.4 L2289.4 761.5 L2289.6 756.7 L2289.8 754.0 L2290.0 749.7 L2290.2 745.6 L2290.4 740.6 L2290.6 737.8 L2290.8 732.4 L2291.0 729.7 L2291.2 724.5 L2291.4 721.5 L2291.6 716.6 L2291.8 713.6 L2292.0 708.1 L2292.2 704.2 L2292.4 701.2 L2292.6 696.1 L2292.8 693.3 L2293.0 688.5 L2293.2 685.6 L2293.4 680.4 L2293.6 677.3 L2293.8 672.4 L2294.0 669.7 L2294.2 664.4 L2294.4 660.5 L2294.6 656.2 L2294.8 653.4 L2295.0 648.3 L2295.2 645.6 L2295.4 640.5 L2295.6 637.1 L2295.6 635.8" fill="none" stroke="#0000ff" stroke-width="11.0" stroke-linejoin="round" stroke-linecap="round"/>
<path d="M219.8 477.4 L221.3 500.2 L222.8 493.6 L224.4 475.1 L226.1 497.4 L227.9 469.9 L229.7 487.9 L231.5 468.2 L233.4 473.9 L235.7 461.5 L237.6 471.2 L238.4 483.2 L239.1 468.7 L239.7 494.7 L240.3 498.4 L240.8 476.0 L241.3 476.9 L241.8 503.8 L242.4 487.7 L243.0 510.0 L243.7 489.2 L244.7 515.5 L247.2 496.0 L249.0 497.6 L250.5 512.6 L251.9 489.2 L253.4 507.3 L255.3 504.2 L257.8 488.0 L260.2 508.4 L262.5 493.1 L264.8 509.1 L267.3 491.7 L269.8 511.5 L271.8 494.3 L273.6 483.9 L275.3 483.0 L277.0 484.8 L278.8 503.3 L280.5 479.1 L282.1 472.5 L283.7 497.2 L285.3 492.5 L286.9 465.4 L288.6 490.1 L290.6 471.3 L293.0 487.5 L295.4 472.2 L297.4 493.5 L299.1 470.0 L300.7 487.1 L302.2 491.0 L303.8 473.3 L305.3 501.5 L306.5 483.6 L307.6 504.3 L308.7 481.8 L309.8 510.8 L310.9 503.7 L312.2 486.9 L313.9 490.8 L316.4 508.5 L317.7 512.3 L318.7 484.0 L319.6 484.5 L320.4 499.7 L321.2 480.0 L322.0 477.2 L322.8 494.3 L323.7 498.2 L324.7 496.1 L326.1 468.4 L327.9 495.1 L329.8 468.1 L331.8 466.7 L334.0 464.1 L336.5 482.2 L338.8 483.3 L340.3 485.6 L341.6 467.0 L342.8 491.1 L344.0 476.8 L345.3 496.7 L347.0 477.8 L349.5 492.3 L351.1 490.7 L352.4 473.0 L353.7 484.0 L355.1 468.3 L357.2 483.5 L359.4 471.0 L361.0 488.4 L362.4 471.3 L363.9 498.5 L365.9 477.1 L368.4 477.7 L370.7 494.7 L372.8 474.6 L374.8 486.9 L376.8 490.4 L378.8 464.5 L381.0 486.2 L383.3 466.0 L385.6 459.2 L387.9 459.7 L390.3 483.6 L392.7 457.5 L395.2 455.4 L397.7 461.1 L400.2 481.5 L402.7 483.3 L405.1 460.7 L407.5 478.9 L409.9 480.2 L412.3 488.8 L414.6 483.2 L416.9 471.7 L419.1 491.3 L421.3 471.1 L423.4 478.3 L425.5 489.7 L427.5 477.9 L429.4 492.9 L431.1 485.1 L432.7 493.5 L434.2 497.7 L435.6 490.9 L437.0 491.7 L438.3 505.1 L439.6 499.9 L440.8 506.5 L441.9 510.0 L442.9 504.0 L443.9 514.2 L444.8 518.3 L445.7 512.5 L446.6 514.3 L447.6 523.0 L448.6 519.0 L449.7 526.9 L450.9 524.7 L452.1 531.4 L453.4 529.5 L454.7 539.2 L456.1 540.0 L457.5 540.7 L458.9 538.4 L460.3 545.5 L461.8 541.4 L463.3 551.9 L464.8 548.4 L466.3 555.1 L467.9 552.6 L469.5 552.2 L471.1 560.9 L472.7 558.1 L474.3 559.0 L476.0 565.5 L477.7 562.2 L479.4 563.7 L481.1 565.5 L482.8 572.9 L484.6 576.2 L486.4 579.2 L488.2 575.6 L490.0 575.4 L491.8 584.0 L493.6 584.9 L495.4 587.3 L497.2 587.6 L499.0 583.3 L500.9 585.4 L502.7 594.7 L504.5 591.9 L506.3 597.8 L508.1 593.7 L510.0 601.7 L511.9 604.2 L513.8 600.3 L515.7 606.8 L517.7 603.4 L519.7 610.2 L521.8 604.1 L523.9 612.4 L526.0 608.9 L528.1 616.7 L530.3 609.5 L532.5 619.4 L534.7 614.7 L537.0 621.0 L539.3 616.1 L541.6 615.3 L544.0 623.4 L546.4 619.1 L548.8 624.0 L551.3 621.8 L553.8 627.9 L556.3 621.0 L558.8 627.8 L561.3 629.4 L563.8 621.4 L566.3 630.7 L568.8 622.6 L571.3 629.4 L573.8 624.9 L576.3 630.2 L578.8 628.0 L581.3 624.6 L583.8 630.3 L586.3 622.9 L588.8 627.4 L591.3 621.6 L593.8 626.5 L596.3 622.0 L598.8 628.4 L601.3 621.6 L603.7 626.1 L606.1 619.3 L608.5 618.1 L610.9 622.7 L613.3 616.4 L615.7 622.3 L618.1 614.1 L620.5 616.5 L622.9 616.9 L625.3 612.7 L627.7 613.5 L630.1 610.9 L632.5 611.8 L634.9 608.8 L637.3 609.8 L639.7 607.1 L642.1 607.9 L644.5 604.2 L646.9 603.5 L649.3 605.6 L651.7 601.7 L654.1 600.4 L656.5 602.6 L658.9 602.6 L661.3 598.5 L663.7 597.6 L666.1 600.0 L668.5 596.1 L670.9 599.1 L673.3 597.4 L675.7 596.0 L678.1 593.5 L680.5 595.4 L682.9 590.6 L685.3 593.1 L687.7 590.0 L690.1 592.5 L692.5 587.2 L694.9 586.3 L697.3 586.4 L699.7 584.4 L702.1 587.0 L704.4 585.4 L706.7 581.6 L709.0 584.8 L711.3 580.6 L713.6 581.5 L715.9 576.9 L718.2 579.3 L720.5 576.0 L722.8 575.3 L725.1 573.3 L727.4 576.2 L729.7 572.2 L732.0 572.8 L734.3 573.3 L736.6 570.8 L738.9 568.1 L741.2 569.8 L743.5 565.2 L745.8 564.8 L748.1 566.5 L750.4 561.1 L752.7 563.4 L755.0 559.9 L757.3 561.9 L759.6 557.3 L761.9 559.6 L764.2 554.9 L766.5 557.8 L768.8 553.2 L771.1 554.7 L773.4 549.6 L775.7 553.0 L778.0 547.3 L780.3 549.9 L782.6 546.0 L784.9 548.5 L787.2 543.7 L789.5 545.8 L791.8 541.8 L794.1 544.8 L796.4 540.1 L798.7 538.7 L801.0 541.2 L803.3 536.3 L805.6 537.9 L807.9 533.6 L810.2 536.6 L812.5 531.6 L814.8 534.0 L817.1 529.7 L819.4 531.2 L821.8 527.4 L824.2 529.3 L826.6 525.7 L829.0 527.4 L831.4 525.0 L833.8 525.5 L836.2 523.4 L838.6 523.4 L841.0 522.4 L843.4 521.5 L845.8 520.0 L848.2 520.0 L850.6 518.0 L853.0 518.5 L855.4 516.2 L857.8 516.7 L860.2 515.7 L862.6 513.4 L864.9 513.8 L867.2 512.4 L869.5 511.5 L871.8 510.3 L874.1 509.1 L876.4 507.2 L878.7 507.3 L881.0 505.2 L883.3 505.0 L885.6 503.1 L887.9 503.1 L890.3 501.1 L892.7 501.2 L895.1 500.2 L897.5 498.2 L899.9 498.6 L902.3 496.7 L904.7 496.8 L907.1 494.9 L909.5 495.2 L911.9 493.3 L914.3 493.6 L916.7 493.2 L919.1 491.4 L921.5 491.6 L923.9 489.4 L926.3 490.0 L928.7 487.9 L931.1 488.6 L933.5 486.8 L935.9 486.8 L938.3 485.0 L940.7 484.9 L943.1 483.5 L945.5 482.8 L947.9 482.9 L950.3 482.1 L952.7 480.1 L955.1 479.0 L957.5 479.3 L959.9 477.8 L962.3 477.6 L964.7 476.1 L967.1 475.5 L969.5 475.8 L971.9 473.8 L974.3 473.6 L976.7 472.3 L979.1 472.3 L981.5 470.3 L983.9 470.8 L986.3 468.9 L988.7 468.1 L991.1 467.9 L993.5 466.6 L995.9 466.4 L998.4 466.2 L1000.9 464.1 L1003.4 464.5 L1005.9 464.2 L1008.4 463.3 L1010.9 462.2 L1013.4 462.8 L1015.9 461.5 L1018.4 462.4 L1020.9 461.1 L1023.4 462.2 L1025.9 462.3 L1028.4 461.6 L1030.9 462.5 L1033.4 462.5 L1035.9 462.3 L1038.4 461.5 L1040.9 462.2 L1043.4 461.2 L1045.9 462.3 L1048.4 462.5 L1050.9 461.2 L1053.4 462.3 L1055.9 462.4 L1058.4 462.2 L1060.9 461.4 L1063.4 462.4 L1065.9 462.2 L1068.4 462.2 L1070.9 461.4 L1073.4 462.1 L1075.9 462.7 L1078.4 461.6 L1080.9 462.6 L1083.4 461.1 L1085.9 462.4 L1088.4 462.6 L1090.9 462.5 L1093.4 461.1 L1095.9 462.3 L1098.4 462.4 L1100.9 461.9 L1103.4 461.9 L1105.9 461.9 L1108.4 461.9 L1110.9 461.9 L1113.4 461.9 L1115.9 461.9 L1118.4 461.9 L1120.9 461.9 L1123.4 461.9 L1125.9 462.0 L1128.4 462.0 L1130.9 462.0 L1133.4 462.0 L1135.9 462.0 L1138.4 462.0 L1140.9 462.0 L1143.4 462.0 L1145.9 462.0 L1148.4 462.0 L1150.9 462.0 L1153.4 462.0 L1155.9 462.0 L1158.4 462.0 L1160.9 462.0 L1163.4 462.0 L1165.9 462.0 L1168.4 462.0 L1170.9 462.0 L1173.4 462.0 L1175.9 462.0 L1178.4 462.0 L1180.9 462.0 L1183.4 462.0 L1185.9 462.0 L1188.4 462.1 L1190.9 462.1 L1193.4 462.1 L1195.9 462.1 L1198.4 462.1 L1200.9 462.1 L1203.4 462.1 L1205.9 462.1 L1208.4 462.1 L1210.9 462.1 L1213.4 462.1 L1215.9 462.1 L1218.4 462.1 L1220.9 462.1 L1223.4 462.1 L1225.9 462.1 L1228.4 462.2 L1230.9 462.2 L1233.4 462.2 L1235.9 462.2 L1238.4 462.2 L1240.9 462.2 L1243.4 462.2 L1245.9 462.2 L1248.4 462.2 L1250.9 462.2 L1253.4 462.2 L1255.9 462.2 L1258.4 462.3 L1260.9 462.3 L1263.4 462.3 L1265.9 462.3 L1268.4 462.3 L1270.9 462.3 L1273.4 462.4 L1275.9 462.5 L1278.4 462.6 L1280.9 462.7 L1283.4 462.9 L1285.9 463.1 L1288.4 463.3 L1290.9 463.5 L1293.4 463.7 L1295.9 463.9 L1298.4 464.1 L1300.9 464.3 L1303.4 464.5 L1305.9 464.6 L1308.4 464.8 L1310.9 464.9 L1313.4 465.0 L1315.9 465.1 L1318.4 465.2 L1320.9 465.3 L1323.4 465.4 L1325.9 465.5 L1328.4 465.6 L1330.9 465.7 L1333.4 465.7 L1335.9 465.8 L1338.4 465.9 L1340.9 465.9 L1343.4 466.0 L1345.9 466.0 L1348.4 466.0 L1350.9 466.0 L1353.4 465.9 L1355.9 465.9 L1358.4 465.7 L1360.9 465.6 L1363.4 465.4 L1365.9 465.2 L1368.4 465.0 L1370.9 464.8 L1373.4 464.5 L1375.9 464.3 L1378.4 464.0 L1380.9 463.8 L1383.4 463.5 L1385.9 463.3 L1388.4 463.1 L1390.9 462.9 L1393.4 462.7 L1395.9 462.5 L1398.4 462.4 L1400.9 462.3 L1403.4 462.3 L1405.9 462.3 L1408.5 462.3 L1411.1 462.3 L1413.6 462.3 L1416.2 462.3 L1418.7 462.3 L1421.3 462.3 L1423.9 462.3 L1426.4 462.3 L1429.0 462.3 L1431.5 462.3 L1434.1 462.3 L1436.7 462.3 L1439.2 462.3 L1441.8 462.3 L1444.3 462.3 L1446.9 462.3 L1449.5 462.3 L1452.0 462.3 L1454.6 462.3 L1457.1 462.3 L1459.7 462.3 L1462.3 462.3 L1464.8 462.3 L1467.4 462.3 L1469.9 462.3 L1472.5 462.3 L1475.1 462.3 L1477.6 462.3 L1480.2 462.3 L1482.7 462.3 L1485.3 462.3 L1487.9 462.3 L1490.4 462.3 L1493.0 462.3 L1495.5 462.3 L1498.1 462.3 L1500.7 462.3 L1503.2 462.3 L1505.8 462.3 L1508.3 462.3 L1510.9 462.3 L1513.5 462.3 L1516.0 462.3 L1518.6 462.3 L1521.1 462.3 L1523.7 462.3 L1526.3 462.3 L1528.8 462.3 L1531.4 462.3 L1533.9 462.3 L1536.5 462.3 L1539.1 462.3 L1541.6 463.2 L1544.2 463.1 L1546.7 462.0 L1549.3 463.2 L1551.8 463.2 L1554.3 463.2 L1556.8 462.8 L1559.2 463.1 L1561.6 465.2 L1564.0 466.3 L1566.3 466.1 L1568.4 469.0 L1570.5 469.1 L1572.5 471.6 L1574.5 472.5 L1576.4 475.3 L1578.3 477.2 L1580.1 478.7 L1581.9 480.6 L1583.6 481.5 L1585.3 484.6 L1587.0 485.0 L1588.7 488.7 L1590.3 489.5 L1591.9 492.0 L1593.6 493.5 L1595.3 494.8 L1597.1 498.3 L1598.9 499.8 L1600.7 501.7 L1602.6 502.4 L1604.5 504.8 L1606.5 505.5 L1608.5 508.3 L1610.6 508.3 L1612.7 511.2 L1614.8 511.5 L1617.0 513.9 L1619.3 514.8 L1621.8 513.8 L1624.0 514.2 L1625.6 510.8 L1626.9 509.6 L1628.1 506.1 L1629.3 504.7 L1630.5 501.2 L1631.7 500.3 L1633.0 497.0 L1634.3 494.8 L1635.5 492.0 L1636.6 491.2 L1637.7 487.4 L1638.9 486.5 L1640.2 482.7 L1641.7 481.8 L1643.8 479.2 L1646.3 478.3 L1648.8 477.8 L1651.3 478.8 L1653.8 478.3 L1656.3 477.4 L1658.8 479.1 L1661.3 477.6 L1663.8 479.2 L1666.3 478.7 L1668.8 480.0 L1671.3 479.9 L1673.8 478.9 L1676.3 480.8 L1678.8 479.0 L1681.3 480.1 L1683.8 478.6 L1686.3 479.0 L1688.8 477.2 L1691.3 478.0 L1693.8 476.5 L1696.3 476.8 L1698.8 476.6 L1701.3 476.8 L1703.8 475.1 L1706.3 476.0 L1708.8 475.6 L1711.3 475.5 L1713.8 475.3 L1716.3 473.9 L1718.8 475.2 L1721.3 474.0 L1723.8 474.5 L1726.3 473.3 L1728.8 474.7 L1731.3 473.9 L1733.8 472.7 L1736.3 474.0 L1738.8 473.8 L1741.3 473.0 L1743.8 472.2 L1746.3 473.3 L1748.8 472.3 L1751.3 472.4 L1753.8 471.9 L1756.3 471.7 L1758.8 472.7 L1761.3 472.3 L1763.8 471.1 L1766.3 472.2 L1768.8 470.7 L1771.3 471.4 L1773.8 469.8 L1776.2 470.1 L1778.5 467.8 L1780.8 467.6 L1782.9 464.9 L1784.7 464.1 L1786.7 462.4 L1789.2 461.2 L1790.7 464.4 L1791.9 465.9 L1793.0 469.2 L1794.2 470.3 L1796.1 473.0 L1798.4 473.5 L1800.8 475.1 L1803.3 474.6 L1805.8 474.6 L1808.3 475.4 L1810.8 474.5 L1813.2 472.4 L1815.6 473.0 L1818.0 471.5 L1820.4 470.6 L1822.8 470.8 L1825.2 468.2 L1827.6 467.3 L1830.0 467.5 L1832.4 466.0 L1834.8 465.7 L1837.2 464.8 L1839.6 463.0 L1842.1 464.0 L1844.6 462.2 L1847.1 463.2 L1849.6 461.4 L1852.1 462.5 L1854.6 461.2 L1857.1 462.3 L1859.6 460.7 L1862.1 462.2 L1864.6 462.3 L1867.1 461.5 L1869.6 463.0 L1872.1 462.1 L1874.6 462.8 L1877.0 464.6 L1879.3 464.9 L1881.5 467.5 L1883.7 467.0 L1885.9 468.8 L1888.1 469.6 L1890.3 472.7 L1892.4 472.7 L1894.5 475.2 L1896.6 475.6 L1898.6 478.5 L1900.5 479.0 L1902.4 481.9 L1904.3 482.9 L1906.2 484.1 L1908.1 486.1 L1910.1 488.0 L1912.1 490.6 L1914.1 491.0 L1916.1 492.4 L1918.1 495.6 L1920.2 495.6 L1922.4 496.5 L1924.9 498.5 L1927.4 498.6 L1929.9 497.6 L1932.4 498.1 L1934.9 496.9 L1937.4 497.6 L1939.9 496.2 L1942.4 496.0 L1944.9 496.8 L1947.4 497.1 L1949.9 495.8 L1952.4 497.6 L1954.8 497.6 L1957.1 500.3 L1959.4 501.2 L1961.7 501.2 L1964.1 503.0 L1966.5 502.8 L1968.9 503.3 L1971.3 504.2 L1973.7 506.2 L1976.0 506.2 L1978.2 508.3 L1980.3 509.2 L1982.3 511.6 L1984.2 512.2 L1986.1 515.2 L1988.0 515.7 L1989.9 519.1 L1991.8 519.6 L1993.6 522.1 L1995.4 523.2 L1997.2 526.2 L1998.9 526.8 L2000.6 529.2 L2002.2 531.8 L2003.8 532.7 L2005.3 535.9 L2006.8 537.2 L2008.3 540.2 L2009.8 541.2 L2011.2 544.4 L2012.5 545.8 L2013.8 548.9 L2015.1 550.1 L2016.4 553.9 L2017.7 556.3 L2019.0 556.8 L2020.4 559.3 L2021.9 562.4 L2023.5 563.5 L2025.1 565.5 L2026.8 568.2 L2028.5 568.8 L2030.3 571.2 L2032.1 573.7 L2033.9 575.0 L2035.7 576.6 L2037.5 578.2 L2039.4 581.0 L2041.3 581.6 L2043.3 584.8 L2045.4 585.0 L2047.7 587.5 L2050.1 587.0 L2052.5 589.2 L2055.0 589.8 L2057.5 589.4 L2060.0 590.8 L2062.5 590.7 L2064.9 592.3 L2067.3 592.5 L2069.6 594.7 L2071.7 594.8 L2073.7 597.6 L2075.6 598.4 L2077.4 601.1 L2079.2 601.6 L2081.1 604.7 L2083.1 605.5 L2085.1 608.0 L2087.1 610.1 L2089.1 610.2 L2091.0 613.4 L2092.9 614.8 L2094.8 615.3 L2096.7 618.1 L2098.6 618.7 L2100.5 621.6 L2102.4 622.8 L2104.3 625.1 L2106.1 626.9 L2107.9 627.7 L2109.7 631.0 L2111.5 631.5 L2113.3 633.6 L2115.1 636.7 L2116.9 637.5 L2118.7 640.0 L2120.5 641.0 L2122.3 643.7 L2124.1 644.4 L2125.9 647.3 L2127.8 648.3 L2129.7 649.7 L2131.7 652.5 L2133.7 652.9 L2135.7 654.3 L2137.8 657.1 L2139.9 657.6 L2142.0 659.8 L2144.1 661.7 L2146.2 662.6 L2148.4 664.2 L2150.6 664.6 L2152.9 665.4 L2155.3 667.4 L2157.7 667.4 L2160.1 669.2 L2162.5 668.8 L2165.0 670.8 L2167.5 671.3 L2170.0 670.6 L2172.5 672.2 L2175.0 672.0 L2177.5 673.7 L2180.0 673.1 L2182.5 674.9 L2185.0 675.1 L2187.5 674.6 L2190.0 675.8 L2192.5 675.5 L2195.0 677.1 L2197.5 677.9 L2200.0 676.9 L2202.5 678.8 L2204.9 679.5 L2207.3 679.1 L2209.6 681.5 L2211.9 682.6 L2214.1 683.6 L2216.3 683.9 L2218.5 685.1 L2220.6 687.7 L2222.6 688.4 L2224.6 689.7 L2226.5 691.9 L2228.4 694.6 L2230.2 694.9 L2232.0 696.8 L2233.7 700.0 L2235.4 701.2 L2237.0 703.9 L2238.6 704.9 L2240.2 706.8 L2241.8 710.0 L2243.3 712.0 L2244.7 714.4 L2246.1 716.5 L2247.6 717.6 L2249.2 720.9 L2251.0 721.3 L2252.7 724.8 L2254.5 725.4 L2256.5 727.9 L2258.9 727.7 L2261.4 728.2 L2263.5 725.5 L2265.3 723.4 L2267.0 722.7 L2268.7 721.0 L2270.2 717.7 L2271.5 715.0 L2272.6 712.5 L2273.7 711.5 L2274.7 708.0 L2275.6 705.6 L2276.5 703.9 L2277.3 699.9 L2278.0 697.4 L2278.7 694.8 L2279.3 693.0 L2279.9 690.4 L2280.4 686.9 L2280.9 685.0 L2281.4 681.4 L2281.8 678.1 L2282.2 675.1 L2282.6 673.2 L2282.9 669.1 L2283.2 667.7 L2283.5 663.5 L2283.8 662.0 L2284.1 657.6 L2284.4 655.5 L2284.7 650.9 L2285.0 649.1 L2285.3 643.9 L2285.6 640.7 L2285.8 639.3 L2286.0 635.5 L2286.2 633.9 L2286.4 629.7 L2286.6 627.6 L2286.8 623.5 L2287.0 620.8 L2287.2 617.4 L2287.4 615.5 L2287.6 610.6 L2287.8 607.8 L2288.0 605.3 L2288.2 601.3 L2288.4 599.3 L2288.6 595.8 L2288.8 591.6 L2289.0 589.0 L2289.2 585.1 L2289.4 581.7 L2289.6 578.0 L2289.8 576.0 L2290.0 571.4 L2290.2 569.2 L2290.4 564.0 L2290.6 560.6 L2290.8 557.9 L2291.0 553.2 L2291.2 550.9 L2291.4 546.7 L2291.6 542.6 L2291.8 538.9 L2292.0 533.3 L2292.2 528.8 L2292.4 525.9 L2292.6 519.9 L2292.8 516.7 L2293.0 512.6 L2293.2 506.6 L2293.4 503.6 L2293.6 499.5 L2293.8 493.9 L2294.0 491.1 L2294.2 485.6 L2294.4 482.7 L2294.6 477.9 L2294.8 473.9 L2295.0 469.5 L2295.2 467.1 L2295.4 462.0 L2295.6 459.0 L2295.6 457.6" fill="none" stroke="#00ffff" stroke-width="11.0" stroke-linejoin="round" stroke-linecap="round"/>
<path d="M219.8 301.3 L222.3 309.3 L224.8 303.7 L227.3 307.7 L229.8 327.5 L232.3 310.6 L234.8 321.6 L236.8 307.4 L238.4 330.3 L239.9 309.0 L241.4 339.2 L243.1 312.8 L245.3 332.5 L247.4 339.4 L248.8 310.4 L249.9 334.6 L251.0 324.9 L252.1 328.8 L253.3 304.6 L254.7 304.0 L257.0 317.3 L259.5 298.1 L261.8 319.2 L264.1 297.6 L266.5 297.4 L269.0 317.5 L271.2 317.2 L273.2 304.3 L275.1 303.9 L277.0 314.8 L279.1 299.2 L281.5 315.5 L284.0 289.7 L286.2 315.4 L288.3 314.3 L290.4 301.1 L292.8 302.5 L295.1 317.5 L296.7 323.8 L298.0 297.8 L299.3 315.4 L300.7 311.6 L302.3 309.5 L304.8 292.2 L306.3 307.7 L307.4 288.5 L308.5 311.6 L309.7 298.9 L311.8 319.0 L313.8 318.7 L315.2 295.1 L316.4 317.2 L317.6 295.1 L318.8 311.0 L320.0 292.0 L321.4 306.0 L323.1 303.6 L324.9 282.4 L326.7 297.6 L328.6 272.6 L330.5 292.0 L332.5 272.9 L334.6 294.3 L336.9 298.0 L339.4 271.7 L341.9 295.6 L343.7 274.0 L345.1 275.3 L346.4 299.1 L347.7 283.5 L349.2 280.1 L351.2 308.3 L353.7 286.6 L355.8 304.4 L357.6 275.8 L359.2 275.0 L360.7 286.2 L362.1 272.4 L363.4 291.6 L364.3 266.4 L365.0 281.7 L365.7 263.9 L366.4 274.4 L367.1 257.7 L367.9 279.5 L368.9 258.0 L371.0 269.1 L371.5 280.7 L371.9 257.6 L372.3 281.0 L372.7 268.0 L373.1 291.5 L373.5 274.7 L373.9 291.9 L374.3 274.6 L374.8 296.5 L375.4 281.2 L376.2 308.5 L377.1 291.8 L378.1 312.6 L379.3 290.7 L381.6 315.5 L382.9 289.9 L383.8 308.8 L384.7 309.6 L385.6 279.8 L386.6 283.9 L388.2 294.1 L390.7 276.6 L393.2 293.4 L395.7 282.4 L398.2 302.4 L400.7 281.2 L403.2 301.8 L405.7 284.3 L408.2 304.1 L410.7 285.4 L413.2 289.1 L415.7 309.4 L418.1 289.9 L420.4 292.6 L422.3 301.6 L423.4 306.6 L424.3 305.1 L425.1 313.0 L425.9 304.0 L426.7 318.7 L427.6 321.5 L428.6 319.4 L429.6 324.4 L430.6 315.6 L431.6 331.3 L432.6 328.0 L433.6 326.3 L434.6 333.6 L435.6 331.2 L436.6 331.1 L437.7 340.1 L438.8 337.9 L439.9 347.7 L441.0 342.8 L442.1 353.9 L443.3 345.9 L444.5 356.0 L445.7 349.6 L447.0 358.4 L448.3 356.5 L449.6 364.6 L451.0 360.0 L452.4 362.3 L453.8 364.7 L455.2 372.2 L456.6 373.6 L458.0 370.4 L459.4 373.2 L460.8 383.0 L462.2 377.5 L463.6 385.6 L465.0 382.1 L466.4 382.5 L467.9 384.6 L469.4 393.3 L471.0 388.8 L472.7 398.1 L474.4 400.1 L476.2 396.5 L478.0 405.3 L479.8 400.2 L481.6 406.7 L483.4 404.4 L485.2 411.4 L487.0 414.7 L488.8 410.4 L490.6 418.4 L492.4 419.7 L494.2 414.7 L496.1 420.8 L498.0 416.7 L499.9 419.2 L501.8 420.2 L503.7 424.2 L505.6 424.5 L507.6 433.3 L509.6 427.1 L511.5 431.0 L513.4 438.6 L515.4 431.9 L517.4 433.5 L519.5 443.3 L521.6 436.4 L523.8 445.9 L526.0 439.6 L528.3 447.9 L530.6 450.2 L532.9 442.3 L535.2 450.5 L537.5 444.8 L539.8 452.9 L542.1 446.6 L544.5 456.5 L546.9 451.8 L549.3 456.9 L551.8 452.4 L554.3 457.0 L556.8 451.3 L559.3 457.7 L561.8 452.1 L564.3 459.3 L566.8 460.8 L569.3 456.1 L571.8 459.3 L574.3 462.4 L576.8 455.6 L579.3 459.4 L581.8 453.9 L584.3 459.0 L586.8 455.7 L589.3 459.6 L591.8 452.5 L594.3 458.6 L596.8 452.5 L599.3 457.3 L601.7 450.2 L604.1 455.5 L606.5 448.8 L608.9 454.0 L611.3 448.2 L613.6 453.8 L615.9 444.1 L618.2 451.4 L620.5 444.6 L622.8 446.7 L625.1 441.9 L627.4 440.9 L629.7 443.2 L632.0 438.5 L634.3 440.2 L636.6 435.8 L638.9 435.0 L641.2 434.0 L643.5 436.6 L645.8 434.7 L648.2 431.4 L650.6 429.2 L653.0 427.9 L655.4 430.5 L657.8 429.2 L660.2 430.0 L662.6 424.4 L665.0 428.2 L667.4 423.5 L669.8 425.5 L672.2 424.5 L674.6 421.8 L677.0 423.7 L679.4 420.1 L681.9 423.1 L684.4 422.2 L686.9 418.8 L689.4 421.1 L691.8 417.2 L694.2 418.2 L696.6 414.5 L699.0 413.3 L701.4 414.3 L703.8 414.8 L706.2 411.8 L708.6 414.1 L711.0 412.8 L713.4 408.4 L715.8 411.4 L718.2 406.6 L720.6 406.7 L723.0 409.3 L725.4 404.5 L727.8 403.6 L730.2 405.6 L732.6 405.0 L735.0 402.2 L737.4 404.4 L739.8 399.8 L742.2 402.3 L744.6 397.8 L747.0 396.7 L749.4 400.3 L751.7 395.8 L754.0 397.9 L756.3 396.2 L758.6 392.6 L760.9 393.2 L763.2 390.0 L765.5 388.8 L767.8 386.6 L770.1 388.5 L772.4 385.1 L774.7 386.1 L777.0 381.5 L779.3 385.0 L781.6 379.7 L783.9 382.1 L786.2 377.7 L788.5 379.2 L790.8 375.2 L793.1 377.4 L795.4 376.3 L797.7 374.9 L800.0 370.7 L802.3 372.0 L804.6 370.7 L806.9 366.7 L809.1 366.0 L811.3 364.0 L813.5 367.3 L815.7 362.9 L817.9 363.6 L820.1 359.5 L822.3 362.0 L824.5 360.3 L826.6 355.3 L828.7 353.6 L830.8 353.8 L832.9 352.2 L835.0 351.8 L837.1 349.9 L839.2 347.9 L841.3 347.2 L843.4 344.7 L845.5 343.2 L847.6 343.1 L849.7 340.2 L851.9 339.2 L854.1 338.9 L856.3 336.2 L858.5 335.2 L860.8 335.1 L863.1 333.7 L865.4 331.3 L867.7 331.5 L870.0 329.3 L872.3 329.2 L874.6 328.4 L876.9 327.1 L879.2 324.7 L881.5 324.1 L883.8 322.7 L886.1 322.9 L888.4 320.9 L890.7 321.1 L893.0 318.8 L895.3 319.3 L897.6 317.2 L899.9 316.8 L902.3 315.0 L904.7 315.1 L907.1 313.8 L909.5 312.2 L911.9 310.8 L914.3 311.0 L916.7 308.8 L919.1 309.1 L921.5 306.9 L923.9 307.4 L926.3 305.4 L928.7 304.1 L931.1 304.4 L933.5 303.7 L935.9 301.6 L938.3 300.8 L940.7 299.9 L943.1 300.3 L945.5 298.6 L947.9 298.9 L950.3 296.9 L952.7 297.3 L955.1 295.4 L957.5 295.9 L959.9 293.8 L962.3 293.9 L964.7 293.7 L967.1 291.7 L969.5 291.5 L971.9 289.7 L974.3 290.0 L976.7 289.2 L979.1 288.1 L981.5 285.9 L983.9 286.0 L986.3 284.2 L988.7 284.3 L991.1 282.3 L993.5 282.2 L995.9 281.3 L998.3 279.4 L1000.7 279.5 L1003.1 277.0 L1005.5 277.2 L1007.9 276.4 L1010.3 274.4 L1012.7 274.7 L1015.1 272.5 L1017.5 272.8 L1019.9 270.6 L1022.3 270.8 L1024.7 269.4 L1027.1 267.9 L1029.5 268.5 L1031.9 266.6 L1034.3 265.5 L1036.7 265.7 L1039.1 263.8 L1041.5 263.9 L1043.9 262.3 L1046.3 262.1 L1048.7 261.7 L1051.1 259.3 L1053.5 259.6 L1055.9 257.6 L1058.3 258.0 L1060.7 257.3 L1063.2 255.5 L1065.7 255.5 L1068.2 254.2 L1070.7 254.9 L1073.2 254.2 L1075.7 253.0 L1078.2 254.4 L1080.7 253.3 L1083.2 253.4 L1085.7 253.4 L1088.2 252.9 L1090.7 254.1 L1093.2 254.1 L1095.7 252.8 L1098.2 253.4 L1100.7 253.6 L1103.2 253.6 L1105.7 253.6 L1108.2 253.6 L1110.7 253.6 L1113.2 253.6 L1115.7 253.6 L1118.2 253.6 L1120.7 253.6 L1123.2 253.6 L1125.7 253.6 L1128.2 253.6 L1130.7 253.6 L1133.2 253.6 L1135.7 253.6 L1138.2 253.6 L1140.7 253.6 L1143.2 253.6 L1145.7 253.6 L1148.2 253.6 L1150.7 253.7 L1153.2 253.7 L1155.7 253.7 L1158.2 253.7 L1160.7 253.7 L1163.2 253.7 L1165.7 253.7 L1168.2 253.7 L1170.7 253.7 L1173.2 253.7 L1175.7 253.7 L1178.2 253.7 L1180.7 253.7 L1183.2 253.7 L1185.7 253.7 L1188.2 253.7 L1190.7 253.8 L1193.2 253.8 L1195.7 253.8 L1198.2 253.8 L1200.7 253.8 L1203.2 253.8 L1205.7 253.8 L1208.2 253.8 L1210.7 253.8 L1213.2 253.8 L1215.7 253.9 L1218.2 253.9 L1220.7 253.9 L1223.2 253.9 L1225.7 253.9 L1228.2 253.9 L1230.7 253.9 L1233.2 254.0 L1235.7 254.0 L1238.2 254.0 L1240.7 254.0 L1243.2 254.0 L1245.7 254.0 L1248.2 254.0 L1250.7 254.1 L1253.2 254.1 L1255.7 254.1 L1258.2 254.1 L1260.7 254.1 L1263.2 254.2 L1265.7 254.2 L1268.2 254.2 L1270.7 254.2 L1273.2 254.3 L1275.7 254.5 L1278.2 254.7 L1280.7 255.0 L1283.2 255.4 L1285.7 255.7 L1288.2 256.1 L1290.7 256.5 L1293.2 257.0 L1295.7 257.4 L1298.2 257.8 L1300.7 258.3 L1303.2 258.7 L1305.7 259.1 L1308.2 259.4 L1310.7 259.7 L1313.2 260.0 L1315.7 260.3 L1318.2 260.6 L1320.7 260.8 L1323.2 261.1 L1325.7 261.4 L1328.2 261.7 L1330.7 261.9 L1333.2 262.2 L1335.7 262.4 L1338.2 262.6 L1340.7 262.7 L1343.2 262.9 L1345.7 263.0 L1348.2 263.0 L1350.7 263.0 L1353.2 262.9 L1355.7 262.8 L1358.2 262.7 L1360.7 262.5 L1363.2 262.3 L1365.7 262.0 L1368.2 261.8 L1370.7 261.5 L1373.2 261.2 L1375.7 261.0 L1378.2 260.7 L1380.7 260.5 L1383.2 260.2 L1385.7 260.0 L1388.2 259.8 L1390.7 259.6 L1393.2 259.4 L1395.7 259.2 L1398.2 259.0 L1400.7 258.8 L1403.2 258.6 L1405.7 258.3 L1408.2 258.1 L1410.7 257.9 L1413.2 257.7 L1415.7 257.5 L1418.2 257.3 L1420.7 257.0 L1423.2 256.8 L1425.7 256.6 L1428.2 256.4 L1430.7 256.3 L1433.2 256.1 L1435.7 255.9 L1438.2 255.8 L1440.7 255.6 L1443.2 255.5 L1445.7 255.4 L1448.2 255.3 L1450.7 255.2 L1453.2 255.1 L1455.7 255.0 L1458.2 255.0 L1460.7 255.0 L1463.2 255.0 L1465.7 254.9 L1468.2 254.9 L1470.7 254.9 L1473.2 254.9 L1475.7 254.9 L1478.2 254.9 L1480.7 254.8 L1483.2 254.8 L1485.7 254.8 L1488.2 254.8 L1490.7 254.8 L1493.2 254.8 L1495.7 254.8 L1498.2 254.7 L1500.7 254.7 L1503.2 254.7 L1505.7 254.7 L1508.2 254.7 L1510.7 254.7 L1513.2 254.7 L1515.7 254.7 L1518.2 254.7 L1520.7 254.7 L1523.2 254.7 L1525.7 254.6 L1528.2 254.6 L1530.7 254.6 L1533.2 254.6 L1535.7 254.6 L1538.2 254.6 L1540.7 255.2 L1543.2 255.4 L1545.7 254.1 L1548.2 253.8 L1550.7 255.0 L1553.2 253.8 L1555.7 255.2 L1558.2 253.8 L1560.7 256.1 L1563.0 255.9 L1565.2 258.2 L1567.3 258.4 L1569.3 259.8 L1571.2 262.1 L1573.0 264.6 L1574.6 265.8 L1576.0 269.4 L1577.2 270.2 L1578.3 273.0 L1579.3 276.3 L1580.3 278.9 L1581.3 280.4 L1582.3 282.8 L1583.3 286.3 L1584.4 288.8 L1585.5 289.6 L1586.6 293.5 L1587.7 294.5 L1588.8 297.7 L1589.9 299.4 L1591.0 302.8 L1592.2 303.6 L1593.4 307.6 L1594.6 308.1 L1595.9 311.6 L1597.3 314.2 L1598.7 315.2 L1600.1 318.8 L1601.5 320.3 L1603.0 321.3 L1604.5 324.8 L1606.1 325.8 L1607.7 327.7 L1609.4 331.1 L1611.2 332.6 L1612.9 333.6 L1614.6 335.0 L1616.4 338.6 L1618.4 340.3 L1620.7 339.9 L1623.2 340.5 L1625.1 338.1 L1626.6 337.0 L1628.0 333.9 L1629.3 332.3 L1630.6 329.3 L1631.9 328.2 L1633.2 324.7 L1634.3 322.2 L1635.3 319.5 L1636.2 318.5 L1637.1 315.0 L1638.0 313.3 L1638.9 309.9 L1639.8 308.7 L1640.8 304.7 L1641.9 302.6 L1643.2 300.3 L1644.8 299.3 L1646.5 296.4 L1648.3 296.0 L1650.2 294.0 L1652.3 291.9 L1654.7 292.0 L1657.2 291.4 L1659.7 289.3 L1662.2 290.3 L1664.7 290.2 L1667.2 288.5 L1669.7 289.3 L1672.2 288.2 L1674.7 288.9 L1677.2 287.1 L1679.7 288.2 L1682.2 286.5 L1684.7 287.4 L1687.2 286.2 L1689.7 286.6 L1692.2 284.8 L1694.6 285.2 L1696.9 284.5 L1699.2 281.6 L1701.4 281.5 L1703.6 279.4 L1705.8 279.2 L1708.0 278.2 L1710.2 275.9 L1712.4 275.5 L1714.5 274.4 L1716.6 272.9 L1718.7 269.8 L1720.8 270.1 L1723.0 267.3 L1725.2 267.4 L1727.5 265.0 L1729.9 264.2 L1732.3 264.4 L1734.7 263.9 L1737.1 262.1 L1739.6 261.6 L1742.1 261.6 L1744.6 260.0 L1747.1 260.3 L1749.6 259.3 L1752.1 259.7 L1754.6 258.3 L1757.1 257.5 L1759.6 258.4 L1762.1 257.3 L1764.6 257.8 L1767.1 257.6 L1769.6 256.7 L1772.1 257.2 L1774.6 256.0 L1777.1 255.2 L1779.5 254.9 L1781.9 255.1 L1784.4 253.0 L1786.9 253.9 L1788.8 255.1 L1790.1 258.4 L1791.2 259.2 L1792.3 263.0 L1793.5 264.1 L1794.9 267.0 L1796.9 268.7 L1799.1 270.0 L1801.3 271.5 L1803.6 271.6 L1806.0 271.8 L1808.5 273.7 L1811.0 273.1 L1813.5 271.4 L1815.9 270.1 L1818.2 270.5 L1820.5 269.4 L1822.8 267.2 L1825.1 267.1 L1827.3 265.7 L1829.4 263.1 L1831.5 262.3 L1833.6 260.2 L1835.7 258.4 L1837.9 258.2 L1840.2 255.9 L1842.7 255.4 L1845.2 255.1 L1847.7 254.0 L1850.2 254.9 L1852.7 253.4 L1855.2 254.7 L1857.7 253.1 L1860.2 254.5 L1862.7 253.5 L1865.2 253.8 L1867.7 255.1 L1870.2 254.2 L1872.7 255.4 L1875.2 255.2 L1877.6 255.6 L1879.9 257.9 L1882.2 258.2 L1884.5 258.8 L1886.8 261.5 L1889.0 261.8 L1891.2 263.0 L1893.3 265.6 L1895.3 265.9 L1897.2 268.6 L1899.0 269.4 L1900.6 272.2 L1902.2 273.8 L1903.7 275.8 L1905.2 278.7 L1906.7 279.6 L1908.2 282.0 L1909.8 284.9 L1911.5 286.6 L1913.2 287.5 L1914.9 290.9 L1916.6 292.5 L1918.4 294.4 L1920.3 295.0 L1922.4 297.3 L1924.6 298.8 L1926.9 298.5 L1929.2 300.7 L1931.6 302.1 L1934.0 302.8 L1936.4 303.7 L1938.8 304.2 L1941.2 303.7 L1943.7 305.8 L1946.2 304.9 L1948.7 306.9 L1951.2 307.0 L1953.7 306.6 L1956.1 309.0 L1958.5 308.4 L1960.8 310.4 L1963.1 310.7 L1965.3 311.9 L1967.5 314.1 L1969.7 314.5 L1971.8 316.9 L1973.7 318.9 L1975.6 319.6 L1977.4 322.7 L1979.1 323.4 L1980.8 326.4 L1982.5 327.9 L1984.2 330.3 L1985.9 330.9 L1987.5 334.0 L1989.1 335.2 L1990.6 338.3 L1992.1 338.9 L1993.6 342.2 L1995.1 343.3 L1996.5 345.3 L1997.9 347.8 L1999.3 350.2 L2000.6 353.5 L2001.9 355.6 L2003.2 356.6 L2004.5 359.9 L2005.8 361.1 L2007.0 364.7 L2008.2 366.7 L2009.4 367.8 L2010.6 371.5 L2011.7 372.7 L2012.8 376.2 L2013.9 377.2 L2014.9 380.8 L2015.8 382.5 L2016.7 386.3 L2017.6 387.4 L2018.4 391.0 L2019.2 392.3 L2020.1 396.2 L2021.0 397.8 L2021.9 401.5 L2022.9 402.7 L2024.0 404.9 L2025.3 407.1 L2026.7 409.7 L2028.2 412.8 L2029.8 414.6 L2031.5 415.7 L2033.1 418.6 L2034.7 420.8 L2036.2 422.7 L2037.6 424.8 L2038.9 426.2 L2040.2 429.6 L2041.5 430.2 L2042.8 432.8 L2044.1 435.9 L2045.4 438.1 L2046.8 439.3 L2048.1 443.0 L2049.4 443.7 L2050.7 445.9 L2052.0 449.5 L2053.4 450.7 L2054.9 453.1 L2056.6 454.6 L2058.7 457.4 L2060.9 457.7 L2063.2 459.8 L2065.6 459.5 L2068.0 460.4 L2070.4 462.2 L2072.8 461.4 L2075.2 463.8 L2077.5 463.4 L2079.7 466.1 L2081.8 466.5 L2083.7 469.5 L2085.5 469.7 L2087.2 472.9 L2088.9 474.1 L2090.6 477.1 L2092.3 477.4 L2093.9 480.4 L2095.5 481.3 L2097.1 485.0 L2098.7 485.8 L2100.3 487.6 L2101.9 490.9 L2103.5 491.9 L2105.1 493.8 L2106.8 497.1 L2108.5 497.9 L2110.2 500.9 L2111.9 502.1 L2113.6 505.3 L2115.3 506.7 L2117.0 507.7 L2118.8 510.7 L2120.6 512.2 L2122.4 513.3 L2124.2 514.6 L2126.1 517.4 L2128.0 518.3 L2129.9 520.9 L2131.9 521.3 L2134.0 524.1 L2136.2 524.2 L2138.4 526.5 L2140.7 526.8 L2143.0 529.2 L2145.4 528.7 L2147.8 530.7 L2150.2 530.2 L2152.7 532.0 L2155.2 531.6 L2157.7 532.8 L2160.2 532.2 L2162.7 534.1 L2165.2 533.1 L2167.7 534.4 L2170.2 534.0 L2172.7 533.9 L2175.2 534.5 L2177.7 535.8 L2180.2 534.6 L2182.7 536.0 L2185.2 536.4 L2187.7 535.6 L2190.2 537.6 L2192.7 536.9 L2195.1 538.6 L2197.5 538.4 L2199.9 539.4 L2202.2 541.8 L2204.5 543.1 L2206.7 544.2 L2208.9 545.5 L2211.0 546.1 L2213.1 548.5 L2215.1 549.3 L2217.1 550.3 L2219.0 553.4 L2220.9 555.0 L2222.8 555.7 L2224.7 558.5 L2226.6 559.5 L2228.6 562.0 L2230.6 562.5 L2232.5 563.9 L2234.4 566.8 L2236.4 567.2 L2238.6 568.6 L2241.1 569.1 L2243.6 569.8 L2245.8 567.9 L2247.8 566.2 L2249.7 563.9 L2251.3 562.5 L2252.6 559.4 L2253.7 558.0 L2254.7 555.5 L2255.7 552.6 L2256.7 551.1 L2257.8 548.6 L2259.0 545.3 L2260.3 544.0 L2261.7 541.1 L2263.2 538.5 L2264.7 537.6 L2266.1 535.4 L2267.4 532.3 L2268.6 531.1 L2269.7 527.2 L2270.8 525.9 L2271.8 523.3 L2272.8 521.1 L2273.7 517.4 L2274.5 514.7 L2275.3 513.3 L2276.0 511.4 L2276.7 507.4 L2277.4 506.0 L2278.0 501.9 L2278.5 499.5 L2279.0 497.7 L2279.5 493.4 L2279.9 490.8 L2280.3 489.6 L2280.7 485.6 L2281.1 482.6 L2281.5 480.7 L2281.9 475.9 L2282.2 474.8 L2282.5 471.0 L2282.8 469.3 L2283.1 465.7 L2283.4 463.8 L2283.7 459.1 L2284.0 457.2 L2284.3 453.3 L2284.5 449.2 L2284.7 448.0 L2284.9 445.5 L2285.1 441.3 L2285.3 439.5 L2285.5 435.3 L2285.7 433.5 L2285.9 429.5 L2286.1 427.3 L2286.3 424.7 L2286.5 421.6 L2286.7 416.9 L2286.9 414.6 L2287.1 411.4 L2287.3 406.6 L2287.5 403.4 L2287.7 398.4 L2287.9 395.7 L2288.1 390.2 L2288.3 385.8 L2288.5 383.1 L2288.7 377.7 L2288.9 374.6 L2289.1 368.9 L2289.3 364.9 L2289.5 361.7 L2289.7 356.5 L2289.9 353.4 L2290.1 349.5 L2290.3 345.4 L2290.5 340.8 L2290.7 336.1 L2290.9 331.2 L2291.1 328.2 L2291.3 322.7 L2291.5 319.9 L2291.7 314.4 L2291.9 311.1 L2292.1 305.6 L2292.3 302.3 L2292.5 297.2 L2292.7 294.2 L2292.9 290.6 L2293.1 285.9 L2293.3 282.1 L2293.5 279.8 L2293.7 275.9 L2293.9 272.9 L2294.1 269.7 L2294.3 268.6 L2294.5 264.8 L2294.8 260.8 L2295.1 258.9 L2295.4 254.6 L2295.6 253.6" fill="none" stroke="#ff00ff" stroke-width="11.0" stroke-linejoin="round" stroke-linecap="round"/>
<text x="217.0" y="1674" font-size="73" text-anchor="middle">4000</text>
<text x="514.0" y="1674" font-size="73" text-anchor="middle">3500</text>
<text x="811.0" y="1674" font-size="73" text-anchor="middle">3000</text>
<text x="1108.5" y="1674" font-size="73" text-anchor="middle">2500</text>
<text x="1405.5" y="1674" font-size="73" text-anchor="middle">2000</text>
<text x="1704.5" y="1674" font-size="73" text-anchor="middle">1500</text>
<text x="2002.0" y="1674" font-size="73" text-anchor="middle">1000</text>
<text x="2297.5" y="1674" font-size="73" text-anchor="middle">500</text>
<text x="904" y="1816" font-size="80"><tspan letter-spacing="0.45">Wavenumber </tspan><tspan dx="0">(cm</tspan><tspan font-size="56" dy="-33" dx="0">−</tspan><tspan font-size="46" dx="8.4" dy="-5">1</tspan><tspan dy="38" dx="-0.5">)</tspan></text>
<text transform="translate(84 1056) rotate(-90)" font-size="80">Transmittance</text>
<text x="266.5" y="256.4" font-size="79" text-anchor="middle">6</text>
<text x="266.5" y="441.4" font-size="79" text-anchor="middle">5</text>
<text x="266.5" y="626.3" font-size="79" text-anchor="middle">4</text>
<text x="266.5" y="775.8" font-size="79" text-anchor="middle">3</text>
<text x="266.5" y="931.5" font-size="79" text-anchor="middle">2</text>
<text x="266.5" y="1128.5" font-size="79" text-anchor="middle">1</text>
<text x="494.5" y="210.6" font-size="80"><tspan class="g">ν</tspan>(OH)</text>
<text x="1503" y="192" font-size="80"><tspan class="g">δ</tspan>(H<tspan font-size="46" dy="26">2</tspan><tspan dy="-26">O)</tspan></text>
<text x="1784.6" y="208.8" font-size="80"><tspan class="g">δ</tspan>(TiOH)</text>
<text x="2077.7" y="327.8" font-size="80"><tspan class="g">ν</tspan>(TiO)</text>
<text x="401" y="1478.5" font-size="80">3750...3000</text>
<text x="1741.5" y="1520" font-size="80" letter-spacing="0.4">1140...1050</text>
<text transform="translate(1643 1487) rotate(-90)" font-size="80">1630</text>
<text transform="translate(2252 1431) rotate(-90)" font-size="80">~570</text>
</svg></body></html>
